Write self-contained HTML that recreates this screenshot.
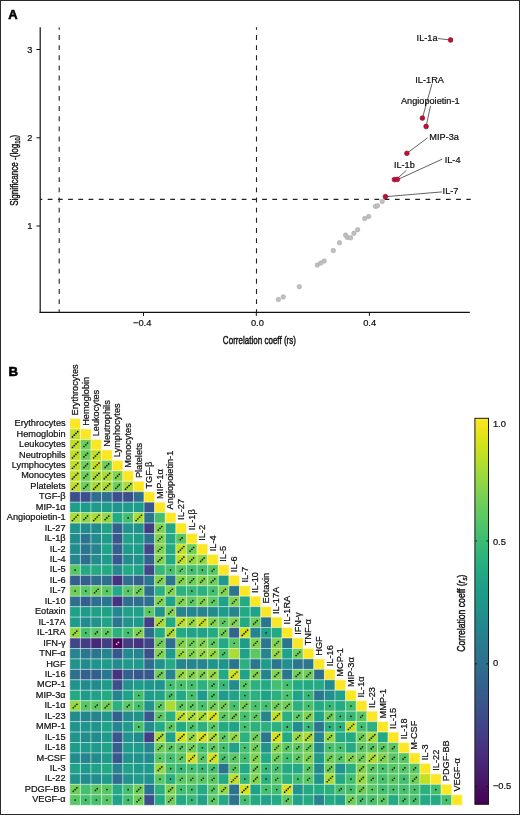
<!DOCTYPE html><html><head><meta charset="utf-8"><style>html,body{margin:0;padding:0;background:#fff;width:520px;height:815px;overflow:hidden}svg{display:block;will-change:transform}text{font-family:"Liberation Sans",sans-serif;fill:#111;stroke:#111;stroke-width:0.22px}</style></head><body>
<svg width="520" height="815" viewBox="0 0 520 815">
<rect x="0" y="0" width="520" height="815" fill="#fff"/>
<text x="8.3" y="19.2" font-size="13.0" font-weight="bold" style="fill:#000;stroke:#000;stroke-width:0.55px">A</text>
<g stroke="#222" stroke-width="1.1" fill="none">
<line x1="59.2" y1="312" x2="59.2" y2="27.2" stroke-dasharray="4.9 5.26" stroke-dashoffset="2.2"/>
<line x1="256.5" y1="312" x2="256.5" y2="27.2" stroke-dasharray="4.9 5.26" stroke-dashoffset="2.2"/>
<line x1="40.2" y1="199.4" x2="470.7" y2="199.4" stroke-dasharray="4.8 5.41" stroke-dashoffset="2.71"/>
</g>
<g stroke="#111" stroke-width="1.2" fill="none">
<line x1="40.2" y1="27.2" x2="40.2" y2="312.9"/>
<line x1="39.6" y1="312.3" x2="469.8" y2="312.3"/>
<line x1="36.4" y1="49.5" x2="40.2" y2="49.5" stroke-width="1"/>
<line x1="36.4" y1="137.8" x2="40.2" y2="137.8" stroke-width="1"/>
<line x1="36.4" y1="226.0" x2="40.2" y2="226.0" stroke-width="1"/>
<line x1="143.5" y1="312.3" x2="143.5" y2="315.9" stroke-width="1"/>
<line x1="256.3" y1="312.3" x2="256.3" y2="315.9" stroke-width="1"/>
<line x1="369.4" y1="312.3" x2="369.4" y2="315.9" stroke-width="1"/>
</g>
<g font-size="9.3" text-anchor="end">
<text x="32.3" y="52.9">3</text>
<text x="32.3" y="141.20000000000002">2</text>
<text x="32.3" y="229.4">1</text>
</g>
<g font-size="9.3" text-anchor="middle">
<text x="142.2" y="325.9">−0.4</text>
<text x="257.4" y="325.9">0.0</text>
<text x="369.6" y="325.9">0.4</text>
</g>
<text transform="translate(259.4,343.6) scale(0.70,1)" font-size="11.5" text-anchor="middle" style="stroke-width:0.45px">Correlation coeff (rs)</text>
<text transform="translate(17.8,170.3) rotate(-90) scale(0.705,1)" font-size="11.5" text-anchor="middle" style="stroke-width:0.4px">Significance -(log<tspan font-size="8" dy="2">10</tspan><tspan dy="-2">)</tspan></text>
<g fill="#bfbfbf" stroke="#a9a9a9" stroke-width="0.6">
<circle cx="278.4" cy="299.4" r="2.25"/>
<circle cx="283.3" cy="296.9" r="2.25"/>
<circle cx="299.3" cy="286.7" r="2.25"/>
<circle cx="317.3" cy="265.1" r="2.25"/>
<circle cx="320.7" cy="263.1" r="2.25"/>
<circle cx="324.2" cy="261.1" r="2.25"/>
<circle cx="333.3" cy="250.6" r="2.25"/>
<circle cx="339.5" cy="242.8" r="2.25"/>
<circle cx="345.6" cy="235.1" r="2.25"/>
<circle cx="347.2" cy="237.4" r="2.25"/>
<circle cx="350.6" cy="237.8" r="2.25"/>
<circle cx="353.9" cy="233.3" r="2.25"/>
<circle cx="357.6" cy="229.7" r="2.25"/>
<circle cx="364.7" cy="218.5" r="2.25"/>
<circle cx="368.7" cy="216.5" r="2.25"/>
<circle cx="375.5" cy="206.4" r="2.25"/>
<circle cx="377.5" cy="205.8" r="2.25"/>
<circle cx="382.2" cy="201.4" r="2.25"/>
</g>
<g stroke="#3a3a3a" stroke-width="0.8">
<line x1="385.4" y1="196.7" x2="441.9" y2="191.9"/>
<line x1="397.3" y1="178.6" x2="406.3" y2="170.4"/>
<line x1="398.5" y1="179.2" x2="442.3" y2="159.1"/>
<line x1="406.9" y1="153.3" x2="427.5" y2="137.9"/>
<line x1="422.4" y1="118.1" x2="432.0" y2="83.8"/>
<line x1="426.1" y1="126.5" x2="430.5" y2="105.8"/>
<line x1="450.6" y1="40.0" x2="437.9" y2="38.5"/>
</g>
<g fill="#c0103a" stroke="#8c0826" stroke-width="0.6">
<circle cx="385.4" cy="196.7" r="2.4"/>
<circle cx="394.4" cy="179.6" r="2.4"/>
<circle cx="397.3" cy="179.4" r="2.4"/>
<circle cx="406.9" cy="153.3" r="2.4"/>
<circle cx="422.4" cy="118.1" r="2.4"/>
<circle cx="426.1" cy="126.5" r="2.4"/>
<circle cx="450.6" cy="40.0" r="2.4"/>
</g>
<g font-size="9.2" style="fill:#222">
<text x="416.6" y="40.6">IL-1a</text>
<text x="415.3" y="82.7">IL-1RA</text>
<text x="400.9" y="104.2">Angiopoietin-1</text>
<text x="429.3" y="139.7">MIP-3a</text>
<text x="444.7" y="163.0">IL-4</text>
<text x="393.9" y="168.3">IL-1b</text>
<text x="442.6" y="194.0">IL-7</text>
</g>
<text x="8.6" y="375.9" font-size="13.2" font-weight="bold" style="fill:#000;stroke:#000;stroke-width:0.55px">B</text>
<g stroke="#ffffff" stroke-width="1.0" stroke-opacity="0.38">
<rect x="69.80" y="418.60" width="10.61" height="10.45" fill="#fde725"/>
<rect x="69.80" y="429.05" width="10.61" height="10.45" fill="#c0df25"/>
<rect x="80.41" y="429.05" width="10.61" height="10.45" fill="#fde725"/>
<rect x="69.80" y="439.50" width="10.61" height="10.45" fill="#c0df25"/>
<rect x="80.41" y="439.50" width="10.61" height="10.45" fill="#6ece58"/>
<rect x="91.02" y="439.50" width="10.61" height="10.45" fill="#fde725"/>
<rect x="69.80" y="449.95" width="10.61" height="10.45" fill="#c0df25"/>
<rect x="80.41" y="449.95" width="10.61" height="10.45" fill="#6ece58"/>
<rect x="91.02" y="449.95" width="10.61" height="10.45" fill="#c0df25"/>
<rect x="101.63" y="449.95" width="10.61" height="10.45" fill="#fde725"/>
<rect x="69.80" y="460.40" width="10.61" height="10.45" fill="#c0df25"/>
<rect x="80.41" y="460.40" width="10.61" height="10.45" fill="#6ece58"/>
<rect x="91.02" y="460.40" width="10.61" height="10.45" fill="#c0df25"/>
<rect x="101.63" y="460.40" width="10.61" height="10.45" fill="#6ece58"/>
<rect x="112.24" y="460.40" width="10.61" height="10.45" fill="#fde725"/>
<rect x="69.80" y="470.85" width="10.61" height="10.45" fill="#c0df25"/>
<rect x="80.41" y="470.85" width="10.61" height="10.45" fill="#6ece58"/>
<rect x="91.02" y="470.85" width="10.61" height="10.45" fill="#aadc32"/>
<rect x="101.63" y="470.85" width="10.61" height="10.45" fill="#aadc32"/>
<rect x="112.24" y="470.85" width="10.61" height="10.45" fill="#81d34d"/>
<rect x="122.85" y="470.85" width="10.61" height="10.45" fill="#fde725"/>
<rect x="69.80" y="481.30" width="10.61" height="10.45" fill="#c0df25"/>
<rect x="80.41" y="481.30" width="10.61" height="10.45" fill="#6ece58"/>
<rect x="91.02" y="481.30" width="10.61" height="10.45" fill="#aadc32"/>
<rect x="101.63" y="481.30" width="10.61" height="10.45" fill="#aadc32"/>
<rect x="112.24" y="481.30" width="10.61" height="10.45" fill="#6ece58"/>
<rect x="122.85" y="481.30" width="10.61" height="10.45" fill="#aadc32"/>
<rect x="133.46" y="481.30" width="10.61" height="10.45" fill="#fde725"/>
<rect x="69.80" y="491.75" width="10.61" height="10.45" fill="#3c4f8a"/>
<rect x="80.41" y="491.75" width="10.61" height="10.45" fill="#3c4f8a"/>
<rect x="91.02" y="491.75" width="10.61" height="10.45" fill="#2e6f8e"/>
<rect x="101.63" y="491.75" width="10.61" height="10.45" fill="#2e6f8e"/>
<rect x="112.24" y="491.75" width="10.61" height="10.45" fill="#3c4f8a"/>
<rect x="122.85" y="491.75" width="10.61" height="10.45" fill="#3c4f8a"/>
<rect x="133.46" y="491.75" width="10.61" height="10.45" fill="#2e6f8e"/>
<rect x="144.07" y="491.75" width="10.61" height="10.45" fill="#fde725"/>
<rect x="69.80" y="502.20" width="10.61" height="10.45" fill="#1f9e89"/>
<rect x="80.41" y="502.20" width="10.61" height="10.45" fill="#1e9b8a"/>
<rect x="91.02" y="502.20" width="10.61" height="10.45" fill="#1e9b8a"/>
<rect x="101.63" y="502.20" width="10.61" height="10.45" fill="#1e9b8a"/>
<rect x="112.24" y="502.20" width="10.61" height="10.45" fill="#1f948c"/>
<rect x="122.85" y="502.20" width="10.61" height="10.45" fill="#1e9b8a"/>
<rect x="133.46" y="502.20" width="10.61" height="10.45" fill="#1e9b8a"/>
<rect x="144.07" y="502.20" width="10.61" height="10.45" fill="#38588c"/>
<rect x="154.68" y="502.20" width="10.61" height="10.45" fill="#fde725"/>
<rect x="69.80" y="512.65" width="10.61" height="10.45" fill="#aadc32"/>
<rect x="80.41" y="512.65" width="10.61" height="10.45" fill="#95d840"/>
<rect x="91.02" y="512.65" width="10.61" height="10.45" fill="#aadc32"/>
<rect x="101.63" y="512.65" width="10.61" height="10.45" fill="#95d840"/>
<rect x="112.24" y="512.65" width="10.61" height="10.45" fill="#24aa83"/>
<rect x="122.85" y="512.65" width="10.61" height="10.45" fill="#44bf70"/>
<rect x="133.46" y="512.65" width="10.61" height="10.45" fill="#aadc32"/>
<rect x="144.07" y="512.65" width="10.61" height="10.45" fill="#2c738e"/>
<rect x="154.68" y="512.65" width="10.61" height="10.45" fill="#44bf70"/>
<rect x="165.29" y="512.65" width="10.61" height="10.45" fill="#fde725"/>
<rect x="69.80" y="523.10" width="10.61" height="10.45" fill="#20938c"/>
<rect x="80.41" y="523.10" width="10.61" height="10.45" fill="#228c8d"/>
<rect x="91.02" y="523.10" width="10.61" height="10.45" fill="#228c8d"/>
<rect x="101.63" y="523.10" width="10.61" height="10.45" fill="#1fa287"/>
<rect x="112.24" y="523.10" width="10.61" height="10.45" fill="#34608d"/>
<rect x="122.85" y="523.10" width="10.61" height="10.45" fill="#20938c"/>
<rect x="133.46" y="523.10" width="10.61" height="10.45" fill="#20938c"/>
<rect x="144.07" y="523.10" width="10.61" height="10.45" fill="#433d84"/>
<rect x="154.68" y="523.10" width="10.61" height="10.45" fill="#81d34d"/>
<rect x="165.29" y="523.10" width="10.61" height="10.45" fill="#24aa83"/>
<rect x="175.90" y="523.10" width="10.61" height="10.45" fill="#fde725"/>
<rect x="69.80" y="533.55" width="10.61" height="10.45" fill="#228c8d"/>
<rect x="80.41" y="533.55" width="10.61" height="10.45" fill="#2a768e"/>
<rect x="91.02" y="533.55" width="10.61" height="10.45" fill="#228c8d"/>
<rect x="101.63" y="533.55" width="10.61" height="10.45" fill="#1e9b8a"/>
<rect x="112.24" y="533.55" width="10.61" height="10.45" fill="#38588c"/>
<rect x="122.85" y="533.55" width="10.61" height="10.45" fill="#1fa287"/>
<rect x="133.46" y="533.55" width="10.61" height="10.45" fill="#1e9b8a"/>
<rect x="144.07" y="533.55" width="10.61" height="10.45" fill="#2e6f8e"/>
<rect x="154.68" y="533.55" width="10.61" height="10.45" fill="#81d34d"/>
<rect x="165.29" y="533.55" width="10.61" height="10.45" fill="#24aa83"/>
<rect x="175.90" y="533.55" width="10.61" height="10.45" fill="#5cc863"/>
<rect x="186.51" y="533.55" width="10.61" height="10.45" fill="#fde725"/>
<rect x="69.80" y="544.00" width="10.61" height="10.45" fill="#228c8d"/>
<rect x="80.41" y="544.00" width="10.61" height="10.45" fill="#2a768e"/>
<rect x="91.02" y="544.00" width="10.61" height="10.45" fill="#25848e"/>
<rect x="101.63" y="544.00" width="10.61" height="10.45" fill="#1fa287"/>
<rect x="112.24" y="544.00" width="10.61" height="10.45" fill="#34608d"/>
<rect x="122.85" y="544.00" width="10.61" height="10.45" fill="#1e9b8a"/>
<rect x="133.46" y="544.00" width="10.61" height="10.45" fill="#1e9b8a"/>
<rect x="144.07" y="544.00" width="10.61" height="10.45" fill="#404688"/>
<rect x="154.68" y="544.00" width="10.61" height="10.45" fill="#81d34d"/>
<rect x="165.29" y="544.00" width="10.61" height="10.45" fill="#24aa83"/>
<rect x="175.90" y="544.00" width="10.61" height="10.45" fill="#c0df25"/>
<rect x="186.51" y="544.00" width="10.61" height="10.45" fill="#6ece58"/>
<rect x="197.12" y="544.00" width="10.61" height="10.45" fill="#fde725"/>
<rect x="69.80" y="554.45" width="10.61" height="10.45" fill="#25848e"/>
<rect x="80.41" y="554.45" width="10.61" height="10.45" fill="#2e6f8e"/>
<rect x="91.02" y="554.45" width="10.61" height="10.45" fill="#228c8d"/>
<rect x="101.63" y="554.45" width="10.61" height="10.45" fill="#1e9b8a"/>
<rect x="112.24" y="554.45" width="10.61" height="10.45" fill="#38588c"/>
<rect x="122.85" y="554.45" width="10.61" height="10.45" fill="#228c8d"/>
<rect x="133.46" y="554.45" width="10.61" height="10.45" fill="#20938c"/>
<rect x="144.07" y="554.45" width="10.61" height="10.45" fill="#34608d"/>
<rect x="154.68" y="554.45" width="10.61" height="10.45" fill="#81d34d"/>
<rect x="165.29" y="554.45" width="10.61" height="10.45" fill="#24aa83"/>
<rect x="175.90" y="554.45" width="10.61" height="10.45" fill="#c0df25"/>
<rect x="186.51" y="554.45" width="10.61" height="10.45" fill="#95d840"/>
<rect x="197.12" y="554.45" width="10.61" height="10.45" fill="#95d840"/>
<rect x="207.73" y="554.45" width="10.61" height="10.45" fill="#fde725"/>
<rect x="69.80" y="564.90" width="10.61" height="10.45" fill="#58c765"/>
<rect x="80.41" y="564.90" width="10.61" height="10.45" fill="#24aa83"/>
<rect x="91.02" y="564.90" width="10.61" height="10.45" fill="#24aa83"/>
<rect x="101.63" y="564.90" width="10.61" height="10.45" fill="#24aa83"/>
<rect x="112.24" y="564.90" width="10.61" height="10.45" fill="#228c8d"/>
<rect x="122.85" y="564.90" width="10.61" height="10.45" fill="#24aa83"/>
<rect x="133.46" y="564.90" width="10.61" height="10.45" fill="#1fa287"/>
<rect x="144.07" y="564.90" width="10.61" height="10.45" fill="#404688"/>
<rect x="154.68" y="564.90" width="10.61" height="10.45" fill="#37b878"/>
<rect x="165.29" y="564.90" width="10.61" height="10.45" fill="#48c16e"/>
<rect x="175.90" y="564.90" width="10.61" height="10.45" fill="#58c765"/>
<rect x="186.51" y="564.90" width="10.61" height="10.45" fill="#44bf70"/>
<rect x="197.12" y="564.90" width="10.61" height="10.45" fill="#44bf70"/>
<rect x="207.73" y="564.90" width="10.61" height="10.45" fill="#58c765"/>
<rect x="218.34" y="564.90" width="10.61" height="10.45" fill="#fde725"/>
<rect x="69.80" y="575.35" width="10.61" height="10.45" fill="#34608d"/>
<rect x="80.41" y="575.35" width="10.61" height="10.45" fill="#34608d"/>
<rect x="91.02" y="575.35" width="10.61" height="10.45" fill="#2e6f8e"/>
<rect x="101.63" y="575.35" width="10.61" height="10.45" fill="#2e6f8e"/>
<rect x="112.24" y="575.35" width="10.61" height="10.45" fill="#46337f"/>
<rect x="122.85" y="575.35" width="10.61" height="10.45" fill="#2e6f8e"/>
<rect x="133.46" y="575.35" width="10.61" height="10.45" fill="#34608d"/>
<rect x="144.07" y="575.35" width="10.61" height="10.45" fill="#2a768e"/>
<rect x="154.68" y="575.35" width="10.61" height="10.45" fill="#81d34d"/>
<rect x="165.29" y="575.35" width="10.61" height="10.45" fill="#2a768e"/>
<rect x="175.90" y="575.35" width="10.61" height="10.45" fill="#81d34d"/>
<rect x="186.51" y="575.35" width="10.61" height="10.45" fill="#6ece58"/>
<rect x="197.12" y="575.35" width="10.61" height="10.45" fill="#81d34d"/>
<rect x="207.73" y="575.35" width="10.61" height="10.45" fill="#6ece58"/>
<rect x="218.34" y="575.35" width="10.61" height="10.45" fill="#1e9b8a"/>
<rect x="228.95" y="575.35" width="10.61" height="10.45" fill="#fde725"/>
<rect x="69.80" y="585.80" width="10.61" height="10.45" fill="#6ece58"/>
<rect x="80.41" y="585.80" width="10.61" height="10.45" fill="#58c765"/>
<rect x="91.02" y="585.80" width="10.61" height="10.45" fill="#6ece58"/>
<rect x="101.63" y="585.80" width="10.61" height="10.45" fill="#5cc863"/>
<rect x="112.24" y="585.80" width="10.61" height="10.45" fill="#24aa83"/>
<rect x="122.85" y="585.80" width="10.61" height="10.45" fill="#58c765"/>
<rect x="133.46" y="585.80" width="10.61" height="10.45" fill="#6ece58"/>
<rect x="144.07" y="585.80" width="10.61" height="10.45" fill="#2e6f8e"/>
<rect x="154.68" y="585.80" width="10.61" height="10.45" fill="#2cb17e"/>
<rect x="165.29" y="585.80" width="10.61" height="10.45" fill="#81d34d"/>
<rect x="175.90" y="585.80" width="10.61" height="10.45" fill="#2cb17e"/>
<rect x="186.51" y="585.80" width="10.61" height="10.45" fill="#37b878"/>
<rect x="197.12" y="585.80" width="10.61" height="10.45" fill="#2cb17e"/>
<rect x="207.73" y="585.80" width="10.61" height="10.45" fill="#44bf70"/>
<rect x="218.34" y="585.80" width="10.61" height="10.45" fill="#81d34d"/>
<rect x="228.95" y="585.80" width="10.61" height="10.45" fill="#2a768e"/>
<rect x="239.56" y="585.80" width="10.61" height="10.45" fill="#fde725"/>
<rect x="69.80" y="596.25" width="10.61" height="10.45" fill="#2e6f8e"/>
<rect x="80.41" y="596.25" width="10.61" height="10.45" fill="#34608d"/>
<rect x="91.02" y="596.25" width="10.61" height="10.45" fill="#2e6f8e"/>
<rect x="101.63" y="596.25" width="10.61" height="10.45" fill="#2a768e"/>
<rect x="112.24" y="596.25" width="10.61" height="10.45" fill="#46337f"/>
<rect x="122.85" y="596.25" width="10.61" height="10.45" fill="#2e6f8e"/>
<rect x="133.46" y="596.25" width="10.61" height="10.45" fill="#2e6f8e"/>
<rect x="144.07" y="596.25" width="10.61" height="10.45" fill="#2e6f8e"/>
<rect x="154.68" y="596.25" width="10.61" height="10.45" fill="#81d34d"/>
<rect x="165.29" y="596.25" width="10.61" height="10.45" fill="#1fa287"/>
<rect x="175.90" y="596.25" width="10.61" height="10.45" fill="#81d34d"/>
<rect x="186.51" y="596.25" width="10.61" height="10.45" fill="#5cc863"/>
<rect x="197.12" y="596.25" width="10.61" height="10.45" fill="#81d34d"/>
<rect x="207.73" y="596.25" width="10.61" height="10.45" fill="#5cc863"/>
<rect x="218.34" y="596.25" width="10.61" height="10.45" fill="#1fa287"/>
<rect x="228.95" y="596.25" width="10.61" height="10.45" fill="#81d34d"/>
<rect x="239.56" y="596.25" width="10.61" height="10.45" fill="#24aa83"/>
<rect x="250.17" y="596.25" width="10.61" height="10.45" fill="#fde725"/>
<rect x="69.80" y="606.70" width="10.61" height="10.45" fill="#1fa188"/>
<rect x="80.41" y="606.70" width="10.61" height="10.45" fill="#1e9b8a"/>
<rect x="91.02" y="606.70" width="10.61" height="10.45" fill="#1fa188"/>
<rect x="101.63" y="606.70" width="10.61" height="10.45" fill="#1fa188"/>
<rect x="112.24" y="606.70" width="10.61" height="10.45" fill="#23888e"/>
<rect x="122.85" y="606.70" width="10.61" height="10.45" fill="#1fa188"/>
<rect x="133.46" y="606.70" width="10.61" height="10.45" fill="#1fa188"/>
<rect x="144.07" y="606.70" width="10.61" height="10.45" fill="#5cc863"/>
<rect x="154.68" y="606.70" width="10.61" height="10.45" fill="#20938c"/>
<rect x="165.29" y="606.70" width="10.61" height="10.45" fill="#81d34d"/>
<rect x="175.90" y="606.70" width="10.61" height="10.45" fill="#25848e"/>
<rect x="186.51" y="606.70" width="10.61" height="10.45" fill="#25848e"/>
<rect x="197.12" y="606.70" width="10.61" height="10.45" fill="#25848e"/>
<rect x="207.73" y="606.70" width="10.61" height="10.45" fill="#228c8d"/>
<rect x="218.34" y="606.70" width="10.61" height="10.45" fill="#1e9b8a"/>
<rect x="228.95" y="606.70" width="10.61" height="10.45" fill="#25848e"/>
<rect x="239.56" y="606.70" width="10.61" height="10.45" fill="#24aa83"/>
<rect x="250.17" y="606.70" width="10.61" height="10.45" fill="#1fa287"/>
<rect x="260.78" y="606.70" width="10.61" height="10.45" fill="#fde725"/>
<rect x="69.80" y="617.15" width="10.61" height="10.45" fill="#1e9b8a"/>
<rect x="80.41" y="617.15" width="10.61" height="10.45" fill="#228c8d"/>
<rect x="91.02" y="617.15" width="10.61" height="10.45" fill="#20938c"/>
<rect x="101.63" y="617.15" width="10.61" height="10.45" fill="#1fa287"/>
<rect x="112.24" y="617.15" width="10.61" height="10.45" fill="#2a768e"/>
<rect x="122.85" y="617.15" width="10.61" height="10.45" fill="#20938c"/>
<rect x="133.46" y="617.15" width="10.61" height="10.45" fill="#1e9b8a"/>
<rect x="144.07" y="617.15" width="10.61" height="10.45" fill="#433d84"/>
<rect x="154.68" y="617.15" width="10.61" height="10.45" fill="#aadc32"/>
<rect x="165.29" y="617.15" width="10.61" height="10.45" fill="#24aa83"/>
<rect x="175.90" y="617.15" width="10.61" height="10.45" fill="#c0df25"/>
<rect x="186.51" y="617.15" width="10.61" height="10.45" fill="#95d840"/>
<rect x="197.12" y="617.15" width="10.61" height="10.45" fill="#c0df25"/>
<rect x="207.73" y="617.15" width="10.61" height="10.45" fill="#81d34d"/>
<rect x="218.34" y="617.15" width="10.61" height="10.45" fill="#5cc863"/>
<rect x="228.95" y="617.15" width="10.61" height="10.45" fill="#81d34d"/>
<rect x="239.56" y="617.15" width="10.61" height="10.45" fill="#24aa83"/>
<rect x="250.17" y="617.15" width="10.61" height="10.45" fill="#6ece58"/>
<rect x="260.78" y="617.15" width="10.61" height="10.45" fill="#2a768e"/>
<rect x="271.39" y="617.15" width="10.61" height="10.45" fill="#fde725"/>
<rect x="69.80" y="627.60" width="10.61" height="10.45" fill="#95d840"/>
<rect x="80.41" y="627.60" width="10.61" height="10.45" fill="#48c16e"/>
<rect x="91.02" y="627.60" width="10.61" height="10.45" fill="#5cc863"/>
<rect x="101.63" y="627.60" width="10.61" height="10.45" fill="#5cc863"/>
<rect x="112.24" y="627.60" width="10.61" height="10.45" fill="#2cb17e"/>
<rect x="122.85" y="627.60" width="10.61" height="10.45" fill="#44bf70"/>
<rect x="133.46" y="627.60" width="10.61" height="10.45" fill="#81d34d"/>
<rect x="144.07" y="627.60" width="10.61" height="10.45" fill="#2e6f8e"/>
<rect x="154.68" y="627.60" width="10.61" height="10.45" fill="#24aa83"/>
<rect x="165.29" y="627.60" width="10.61" height="10.45" fill="#aadc32"/>
<rect x="175.90" y="627.60" width="10.61" height="10.45" fill="#24aa83"/>
<rect x="186.51" y="627.60" width="10.61" height="10.45" fill="#1fa287"/>
<rect x="197.12" y="627.60" width="10.61" height="10.45" fill="#1fa287"/>
<rect x="207.73" y="627.60" width="10.61" height="10.45" fill="#24aa83"/>
<rect x="218.34" y="627.60" width="10.61" height="10.45" fill="#6ece58"/>
<rect x="228.95" y="627.60" width="10.61" height="10.45" fill="#32648e"/>
<rect x="239.56" y="627.60" width="10.61" height="10.45" fill="#d5e21a"/>
<rect x="250.17" y="627.60" width="10.61" height="10.45" fill="#25848e"/>
<rect x="260.78" y="627.60" width="10.61" height="10.45" fill="#1fa287"/>
<rect x="271.39" y="627.60" width="10.61" height="10.45" fill="#24aa83"/>
<rect x="282.00" y="627.60" width="10.61" height="10.45" fill="#fde725"/>
<rect x="69.80" y="638.05" width="10.61" height="10.45" fill="#404688"/>
<rect x="80.41" y="638.05" width="10.61" height="10.45" fill="#433d84"/>
<rect x="91.02" y="638.05" width="10.61" height="10.45" fill="#482979"/>
<rect x="101.63" y="638.05" width="10.61" height="10.45" fill="#433d84"/>
<rect x="112.24" y="638.05" width="10.61" height="10.45" fill="#46075a"/>
<rect x="122.85" y="638.05" width="10.61" height="10.45" fill="#433d84"/>
<rect x="133.46" y="638.05" width="10.61" height="10.45" fill="#46337f"/>
<rect x="144.07" y="638.05" width="10.61" height="10.45" fill="#404688"/>
<rect x="154.68" y="638.05" width="10.61" height="10.45" fill="#6ece58"/>
<rect x="165.29" y="638.05" width="10.61" height="10.45" fill="#2e6f8e"/>
<rect x="175.90" y="638.05" width="10.61" height="10.45" fill="#81d34d"/>
<rect x="186.51" y="638.05" width="10.61" height="10.45" fill="#6ece58"/>
<rect x="197.12" y="638.05" width="10.61" height="10.45" fill="#81d34d"/>
<rect x="207.73" y="638.05" width="10.61" height="10.45" fill="#5cc863"/>
<rect x="218.34" y="638.05" width="10.61" height="10.45" fill="#24aa83"/>
<rect x="228.95" y="638.05" width="10.61" height="10.45" fill="#58c765"/>
<rect x="239.56" y="638.05" width="10.61" height="10.45" fill="#1e9b8a"/>
<rect x="250.17" y="638.05" width="10.61" height="10.45" fill="#81d34d"/>
<rect x="260.78" y="638.05" width="10.61" height="10.45" fill="#2a768e"/>
<rect x="271.39" y="638.05" width="10.61" height="10.45" fill="#81d34d"/>
<rect x="282.00" y="638.05" width="10.61" height="10.45" fill="#2a768e"/>
<rect x="292.61" y="638.05" width="10.61" height="10.45" fill="#fde725"/>
<rect x="69.80" y="648.50" width="10.61" height="10.45" fill="#25848e"/>
<rect x="80.41" y="648.50" width="10.61" height="10.45" fill="#2a768e"/>
<rect x="91.02" y="648.50" width="10.61" height="10.45" fill="#2a768e"/>
<rect x="101.63" y="648.50" width="10.61" height="10.45" fill="#25848e"/>
<rect x="112.24" y="648.50" width="10.61" height="10.45" fill="#38588c"/>
<rect x="122.85" y="648.50" width="10.61" height="10.45" fill="#228c8d"/>
<rect x="133.46" y="648.50" width="10.61" height="10.45" fill="#25848e"/>
<rect x="144.07" y="648.50" width="10.61" height="10.45" fill="#3c4f8a"/>
<rect x="154.68" y="648.50" width="10.61" height="10.45" fill="#81d34d"/>
<rect x="165.29" y="648.50" width="10.61" height="10.45" fill="#1e9b8a"/>
<rect x="175.90" y="648.50" width="10.61" height="10.45" fill="#95d840"/>
<rect x="186.51" y="648.50" width="10.61" height="10.45" fill="#81d34d"/>
<rect x="197.12" y="648.50" width="10.61" height="10.45" fill="#95d840"/>
<rect x="207.73" y="648.50" width="10.61" height="10.45" fill="#95d840"/>
<rect x="218.34" y="648.50" width="10.61" height="10.45" fill="#48c16e"/>
<rect x="228.95" y="648.50" width="10.61" height="10.45" fill="#aadc32"/>
<rect x="239.56" y="648.50" width="10.61" height="10.45" fill="#1fa287"/>
<rect x="250.17" y="648.50" width="10.61" height="10.45" fill="#5cc863"/>
<rect x="260.78" y="648.50" width="10.61" height="10.45" fill="#25848e"/>
<rect x="271.39" y="648.50" width="10.61" height="10.45" fill="#95d840"/>
<rect x="282.00" y="648.50" width="10.61" height="10.45" fill="#1fa287"/>
<rect x="292.61" y="648.50" width="10.61" height="10.45" fill="#6ece58"/>
<rect x="303.22" y="648.50" width="10.61" height="10.45" fill="#fde725"/>
<rect x="69.80" y="658.95" width="10.61" height="10.45" fill="#20938c"/>
<rect x="80.41" y="658.95" width="10.61" height="10.45" fill="#228c8d"/>
<rect x="91.02" y="658.95" width="10.61" height="10.45" fill="#20938c"/>
<rect x="101.63" y="658.95" width="10.61" height="10.45" fill="#1e9b8a"/>
<rect x="112.24" y="658.95" width="10.61" height="10.45" fill="#228c8d"/>
<rect x="122.85" y="658.95" width="10.61" height="10.45" fill="#1e9b8a"/>
<rect x="133.46" y="658.95" width="10.61" height="10.45" fill="#1e9b8a"/>
<rect x="144.07" y="658.95" width="10.61" height="10.45" fill="#2e6f8e"/>
<rect x="154.68" y="658.95" width="10.61" height="10.45" fill="#20938c"/>
<rect x="165.29" y="658.95" width="10.61" height="10.45" fill="#24aa83"/>
<rect x="175.90" y="658.95" width="10.61" height="10.45" fill="#25848e"/>
<rect x="186.51" y="658.95" width="10.61" height="10.45" fill="#25848e"/>
<rect x="197.12" y="658.95" width="10.61" height="10.45" fill="#25848e"/>
<rect x="207.73" y="658.95" width="10.61" height="10.45" fill="#20938c"/>
<rect x="218.34" y="658.95" width="10.61" height="10.45" fill="#20938c"/>
<rect x="228.95" y="658.95" width="10.61" height="10.45" fill="#2a768e"/>
<rect x="239.56" y="658.95" width="10.61" height="10.45" fill="#2cb17e"/>
<rect x="250.17" y="658.95" width="10.61" height="10.45" fill="#2a768e"/>
<rect x="260.78" y="658.95" width="10.61" height="10.45" fill="#1e9b8a"/>
<rect x="271.39" y="658.95" width="10.61" height="10.45" fill="#2a768e"/>
<rect x="282.00" y="658.95" width="10.61" height="10.45" fill="#218f8d"/>
<rect x="292.61" y="658.95" width="10.61" height="10.45" fill="#2a768e"/>
<rect x="303.22" y="658.95" width="10.61" height="10.45" fill="#2a768e"/>
<rect x="313.83" y="658.95" width="10.61" height="10.45" fill="#fde725"/>
<rect x="69.80" y="669.40" width="10.61" height="10.45" fill="#2e6f8e"/>
<rect x="80.41" y="669.40" width="10.61" height="10.45" fill="#34608d"/>
<rect x="91.02" y="669.40" width="10.61" height="10.45" fill="#34608d"/>
<rect x="101.63" y="669.40" width="10.61" height="10.45" fill="#2a768e"/>
<rect x="112.24" y="669.40" width="10.61" height="10.45" fill="#46337f"/>
<rect x="122.85" y="669.40" width="10.61" height="10.45" fill="#34608d"/>
<rect x="133.46" y="669.40" width="10.61" height="10.45" fill="#38588c"/>
<rect x="144.07" y="669.40" width="10.61" height="10.45" fill="#38588c"/>
<rect x="154.68" y="669.40" width="10.61" height="10.45" fill="#6ece58"/>
<rect x="165.29" y="669.40" width="10.61" height="10.45" fill="#25848e"/>
<rect x="175.90" y="669.40" width="10.61" height="10.45" fill="#95d840"/>
<rect x="186.51" y="669.40" width="10.61" height="10.45" fill="#81d34d"/>
<rect x="197.12" y="669.40" width="10.61" height="10.45" fill="#81d34d"/>
<rect x="207.73" y="669.40" width="10.61" height="10.45" fill="#95d840"/>
<rect x="218.34" y="669.40" width="10.61" height="10.45" fill="#24aa83"/>
<rect x="228.95" y="669.40" width="10.61" height="10.45" fill="#d5e21a"/>
<rect x="239.56" y="669.40" width="10.61" height="10.45" fill="#1fa287"/>
<rect x="250.17" y="669.40" width="10.61" height="10.45" fill="#81d34d"/>
<rect x="260.78" y="669.40" width="10.61" height="10.45" fill="#25848e"/>
<rect x="271.39" y="669.40" width="10.61" height="10.45" fill="#81d34d"/>
<rect x="282.00" y="669.40" width="10.61" height="10.45" fill="#2a768e"/>
<rect x="292.61" y="669.40" width="10.61" height="10.45" fill="#6ece58"/>
<rect x="303.22" y="669.40" width="10.61" height="10.45" fill="#6ece58"/>
<rect x="313.83" y="669.40" width="10.61" height="10.45" fill="#2e6f8e"/>
<rect x="324.44" y="669.40" width="10.61" height="10.45" fill="#fde725"/>
<rect x="69.80" y="679.85" width="10.61" height="10.45" fill="#20938c"/>
<rect x="80.41" y="679.85" width="10.61" height="10.45" fill="#228c8d"/>
<rect x="91.02" y="679.85" width="10.61" height="10.45" fill="#228c8d"/>
<rect x="101.63" y="679.85" width="10.61" height="10.45" fill="#1e9b8a"/>
<rect x="112.24" y="679.85" width="10.61" height="10.45" fill="#3c4f8a"/>
<rect x="122.85" y="679.85" width="10.61" height="10.45" fill="#20938c"/>
<rect x="133.46" y="679.85" width="10.61" height="10.45" fill="#1e9b8a"/>
<rect x="144.07" y="679.85" width="10.61" height="10.45" fill="#20938c"/>
<rect x="154.68" y="679.85" width="10.61" height="10.45" fill="#20938c"/>
<rect x="165.29" y="679.85" width="10.61" height="10.45" fill="#44bf70"/>
<rect x="175.90" y="679.85" width="10.61" height="10.45" fill="#48c16e"/>
<rect x="186.51" y="679.85" width="10.61" height="10.45" fill="#44bf70"/>
<rect x="197.12" y="679.85" width="10.61" height="10.45" fill="#2cb17e"/>
<rect x="207.73" y="679.85" width="10.61" height="10.45" fill="#48c16e"/>
<rect x="218.34" y="679.85" width="10.61" height="10.45" fill="#37b878"/>
<rect x="228.95" y="679.85" width="10.61" height="10.45" fill="#228c8d"/>
<rect x="239.56" y="679.85" width="10.61" height="10.45" fill="#58c765"/>
<rect x="250.17" y="679.85" width="10.61" height="10.45" fill="#2cb17e"/>
<rect x="260.78" y="679.85" width="10.61" height="10.45" fill="#24aa83"/>
<rect x="271.39" y="679.85" width="10.61" height="10.45" fill="#44bf70"/>
<rect x="282.00" y="679.85" width="10.61" height="10.45" fill="#44bf70"/>
<rect x="292.61" y="679.85" width="10.61" height="10.45" fill="#24aa83"/>
<rect x="303.22" y="679.85" width="10.61" height="10.45" fill="#24aa83"/>
<rect x="313.83" y="679.85" width="10.61" height="10.45" fill="#24aa83"/>
<rect x="324.44" y="679.85" width="10.61" height="10.45" fill="#228c8d"/>
<rect x="335.05" y="679.85" width="10.61" height="10.45" fill="#fde725"/>
<rect x="69.80" y="690.30" width="10.61" height="10.45" fill="#24aa83"/>
<rect x="80.41" y="690.30" width="10.61" height="10.45" fill="#1e9b8a"/>
<rect x="91.02" y="690.30" width="10.61" height="10.45" fill="#1fa287"/>
<rect x="101.63" y="690.30" width="10.61" height="10.45" fill="#24aa83"/>
<rect x="112.24" y="690.30" width="10.61" height="10.45" fill="#25848e"/>
<rect x="122.85" y="690.30" width="10.61" height="10.45" fill="#1fa287"/>
<rect x="133.46" y="690.30" width="10.61" height="10.45" fill="#44bf70"/>
<rect x="144.07" y="690.30" width="10.61" height="10.45" fill="#1e9b8a"/>
<rect x="154.68" y="690.30" width="10.61" height="10.45" fill="#1fa287"/>
<rect x="165.29" y="690.30" width="10.61" height="10.45" fill="#48c16e"/>
<rect x="175.90" y="690.30" width="10.61" height="10.45" fill="#24aa83"/>
<rect x="186.51" y="690.30" width="10.61" height="10.45" fill="#44bf70"/>
<rect x="197.12" y="690.30" width="10.61" height="10.45" fill="#1e9b8a"/>
<rect x="207.73" y="690.30" width="10.61" height="10.45" fill="#48c16e"/>
<rect x="218.34" y="690.30" width="10.61" height="10.45" fill="#1e9b8a"/>
<rect x="228.95" y="690.30" width="10.61" height="10.45" fill="#1fa287"/>
<rect x="239.56" y="690.30" width="10.61" height="10.45" fill="#37b878"/>
<rect x="250.17" y="690.30" width="10.61" height="10.45" fill="#2cb17e"/>
<rect x="260.78" y="690.30" width="10.61" height="10.45" fill="#1fa287"/>
<rect x="271.39" y="690.30" width="10.61" height="10.45" fill="#2cb17e"/>
<rect x="282.00" y="690.30" width="10.61" height="10.45" fill="#48c16e"/>
<rect x="292.61" y="690.30" width="10.61" height="10.45" fill="#1fa287"/>
<rect x="303.22" y="690.30" width="10.61" height="10.45" fill="#37b878"/>
<rect x="313.83" y="690.30" width="10.61" height="10.45" fill="#2a768e"/>
<rect x="324.44" y="690.30" width="10.61" height="10.45" fill="#218f8d"/>
<rect x="335.05" y="690.30" width="10.61" height="10.45" fill="#1fa287"/>
<rect x="345.66" y="690.30" width="10.61" height="10.45" fill="#fde725"/>
<rect x="69.80" y="700.75" width="10.61" height="10.45" fill="#95d840"/>
<rect x="80.41" y="700.75" width="10.61" height="10.45" fill="#58c765"/>
<rect x="91.02" y="700.75" width="10.61" height="10.45" fill="#5cc863"/>
<rect x="101.63" y="700.75" width="10.61" height="10.45" fill="#6ece58"/>
<rect x="112.24" y="700.75" width="10.61" height="10.45" fill="#2cb17e"/>
<rect x="122.85" y="700.75" width="10.61" height="10.45" fill="#5cc863"/>
<rect x="133.46" y="700.75" width="10.61" height="10.45" fill="#48c16e"/>
<rect x="144.07" y="700.75" width="10.61" height="10.45" fill="#20938c"/>
<rect x="154.68" y="700.75" width="10.61" height="10.45" fill="#5cc863"/>
<rect x="165.29" y="700.75" width="10.61" height="10.45" fill="#aadc32"/>
<rect x="175.90" y="700.75" width="10.61" height="10.45" fill="#5cc863"/>
<rect x="186.51" y="700.75" width="10.61" height="10.45" fill="#5cc863"/>
<rect x="197.12" y="700.75" width="10.61" height="10.45" fill="#48c16e"/>
<rect x="207.73" y="700.75" width="10.61" height="10.45" fill="#6ece58"/>
<rect x="218.34" y="700.75" width="10.61" height="10.45" fill="#6ece58"/>
<rect x="228.95" y="700.75" width="10.61" height="10.45" fill="#48c16e"/>
<rect x="239.56" y="700.75" width="10.61" height="10.45" fill="#6ece58"/>
<rect x="250.17" y="700.75" width="10.61" height="10.45" fill="#48c16e"/>
<rect x="260.78" y="700.75" width="10.61" height="10.45" fill="#44bf70"/>
<rect x="271.39" y="700.75" width="10.61" height="10.45" fill="#6ece58"/>
<rect x="282.00" y="700.75" width="10.61" height="10.45" fill="#6ece58"/>
<rect x="292.61" y="700.75" width="10.61" height="10.45" fill="#2cb17e"/>
<rect x="303.22" y="700.75" width="10.61" height="10.45" fill="#48c16e"/>
<rect x="313.83" y="700.75" width="10.61" height="10.45" fill="#24aa83"/>
<rect x="324.44" y="700.75" width="10.61" height="10.45" fill="#37b878"/>
<rect x="335.05" y="700.75" width="10.61" height="10.45" fill="#24aa83"/>
<rect x="345.66" y="700.75" width="10.61" height="10.45" fill="#44bf70"/>
<rect x="356.27" y="700.75" width="10.61" height="10.45" fill="#fde725"/>
<rect x="69.80" y="711.20" width="10.61" height="10.45" fill="#228c8d"/>
<rect x="80.41" y="711.20" width="10.61" height="10.45" fill="#25848e"/>
<rect x="91.02" y="711.20" width="10.61" height="10.45" fill="#25848e"/>
<rect x="101.63" y="711.20" width="10.61" height="10.45" fill="#20938c"/>
<rect x="112.24" y="711.20" width="10.61" height="10.45" fill="#34608d"/>
<rect x="122.85" y="711.20" width="10.61" height="10.45" fill="#228c8d"/>
<rect x="133.46" y="711.20" width="10.61" height="10.45" fill="#20938c"/>
<rect x="144.07" y="711.20" width="10.61" height="10.45" fill="#38588c"/>
<rect x="154.68" y="711.20" width="10.61" height="10.45" fill="#5cc863"/>
<rect x="165.29" y="711.20" width="10.61" height="10.45" fill="#2cb17e"/>
<rect x="175.90" y="711.20" width="10.61" height="10.45" fill="#c0df25"/>
<rect x="186.51" y="711.20" width="10.61" height="10.45" fill="#aadc32"/>
<rect x="197.12" y="711.20" width="10.61" height="10.45" fill="#aadc32"/>
<rect x="207.73" y="711.20" width="10.61" height="10.45" fill="#d5e21a"/>
<rect x="218.34" y="711.20" width="10.61" height="10.45" fill="#5cc863"/>
<rect x="228.95" y="711.20" width="10.61" height="10.45" fill="#6ece58"/>
<rect x="239.56" y="711.20" width="10.61" height="10.45" fill="#44bf70"/>
<rect x="250.17" y="711.20" width="10.61" height="10.45" fill="#5cc863"/>
<rect x="260.78" y="711.20" width="10.61" height="10.45" fill="#25848e"/>
<rect x="271.39" y="711.20" width="10.61" height="10.45" fill="#c0df25"/>
<rect x="282.00" y="711.20" width="10.61" height="10.45" fill="#2cb17e"/>
<rect x="292.61" y="711.20" width="10.61" height="10.45" fill="#58c765"/>
<rect x="303.22" y="711.20" width="10.61" height="10.45" fill="#81d34d"/>
<rect x="313.83" y="711.20" width="10.61" height="10.45" fill="#1fa287"/>
<rect x="324.44" y="711.20" width="10.61" height="10.45" fill="#6ece58"/>
<rect x="335.05" y="711.20" width="10.61" height="10.45" fill="#37b878"/>
<rect x="345.66" y="711.20" width="10.61" height="10.45" fill="#37b878"/>
<rect x="356.27" y="711.20" width="10.61" height="10.45" fill="#58c765"/>
<rect x="366.88" y="711.20" width="10.61" height="10.45" fill="#fde725"/>
<rect x="69.80" y="721.65" width="10.61" height="10.45" fill="#20938c"/>
<rect x="80.41" y="721.65" width="10.61" height="10.45" fill="#20938c"/>
<rect x="91.02" y="721.65" width="10.61" height="10.45" fill="#20938c"/>
<rect x="101.63" y="721.65" width="10.61" height="10.45" fill="#1fa287"/>
<rect x="112.24" y="721.65" width="10.61" height="10.45" fill="#25848e"/>
<rect x="122.85" y="721.65" width="10.61" height="10.45" fill="#1e9b8a"/>
<rect x="133.46" y="721.65" width="10.61" height="10.45" fill="#48c16e"/>
<rect x="144.07" y="721.65" width="10.61" height="10.45" fill="#228c8d"/>
<rect x="154.68" y="721.65" width="10.61" height="10.45" fill="#24aa83"/>
<rect x="165.29" y="721.65" width="10.61" height="10.45" fill="#5cc863"/>
<rect x="175.90" y="721.65" width="10.61" height="10.45" fill="#24aa83"/>
<rect x="186.51" y="721.65" width="10.61" height="10.45" fill="#48c16e"/>
<rect x="197.12" y="721.65" width="10.61" height="10.45" fill="#2cb17e"/>
<rect x="207.73" y="721.65" width="10.61" height="10.45" fill="#58c765"/>
<rect x="218.34" y="721.65" width="10.61" height="10.45" fill="#24aa83"/>
<rect x="228.95" y="721.65" width="10.61" height="10.45" fill="#1fa287"/>
<rect x="239.56" y="721.65" width="10.61" height="10.45" fill="#44bf70"/>
<rect x="250.17" y="721.65" width="10.61" height="10.45" fill="#2cb17e"/>
<rect x="260.78" y="721.65" width="10.61" height="10.45" fill="#2cb17e"/>
<rect x="271.39" y="721.65" width="10.61" height="10.45" fill="#2cb17e"/>
<rect x="282.00" y="721.65" width="10.61" height="10.45" fill="#37b878"/>
<rect x="292.61" y="721.65" width="10.61" height="10.45" fill="#228c8d"/>
<rect x="303.22" y="721.65" width="10.61" height="10.45" fill="#37b878"/>
<rect x="313.83" y="721.65" width="10.61" height="10.45" fill="#2a768e"/>
<rect x="324.44" y="721.65" width="10.61" height="10.45" fill="#2cb17e"/>
<rect x="335.05" y="721.65" width="10.61" height="10.45" fill="#2cb17e"/>
<rect x="345.66" y="721.65" width="10.61" height="10.45" fill="#c0df25"/>
<rect x="356.27" y="721.65" width="10.61" height="10.45" fill="#44bf70"/>
<rect x="366.88" y="721.65" width="10.61" height="10.45" fill="#2cb17e"/>
<rect x="377.49" y="721.65" width="10.61" height="10.45" fill="#fde725"/>
<rect x="69.80" y="732.10" width="10.61" height="10.45" fill="#20938c"/>
<rect x="80.41" y="732.10" width="10.61" height="10.45" fill="#228c8d"/>
<rect x="91.02" y="732.10" width="10.61" height="10.45" fill="#228c8d"/>
<rect x="101.63" y="732.10" width="10.61" height="10.45" fill="#1e9b8a"/>
<rect x="112.24" y="732.10" width="10.61" height="10.45" fill="#38588c"/>
<rect x="122.85" y="732.10" width="10.61" height="10.45" fill="#20938c"/>
<rect x="133.46" y="732.10" width="10.61" height="10.45" fill="#228c8d"/>
<rect x="144.07" y="732.10" width="10.61" height="10.45" fill="#433d84"/>
<rect x="154.68" y="732.10" width="10.61" height="10.45" fill="#aadc32"/>
<rect x="165.29" y="732.10" width="10.61" height="10.45" fill="#1fa287"/>
<rect x="175.90" y="732.10" width="10.61" height="10.45" fill="#d5e21a"/>
<rect x="186.51" y="732.10" width="10.61" height="10.45" fill="#95d840"/>
<rect x="197.12" y="732.10" width="10.61" height="10.45" fill="#d5e21a"/>
<rect x="207.73" y="732.10" width="10.61" height="10.45" fill="#aadc32"/>
<rect x="218.34" y="732.10" width="10.61" height="10.45" fill="#5cc863"/>
<rect x="228.95" y="732.10" width="10.61" height="10.45" fill="#95d840"/>
<rect x="239.56" y="732.10" width="10.61" height="10.45" fill="#2cb17e"/>
<rect x="250.17" y="732.10" width="10.61" height="10.45" fill="#6ece58"/>
<rect x="260.78" y="732.10" width="10.61" height="10.45" fill="#2a768e"/>
<rect x="271.39" y="732.10" width="10.61" height="10.45" fill="#d5e21a"/>
<rect x="282.00" y="732.10" width="10.61" height="10.45" fill="#24aa83"/>
<rect x="292.61" y="732.10" width="10.61" height="10.45" fill="#95d840"/>
<rect x="303.22" y="732.10" width="10.61" height="10.45" fill="#aadc32"/>
<rect x="313.83" y="732.10" width="10.61" height="10.45" fill="#25848e"/>
<rect x="324.44" y="732.10" width="10.61" height="10.45" fill="#95d840"/>
<rect x="335.05" y="732.10" width="10.61" height="10.45" fill="#24aa83"/>
<rect x="345.66" y="732.10" width="10.61" height="10.45" fill="#24aa83"/>
<rect x="356.27" y="732.10" width="10.61" height="10.45" fill="#6ece58"/>
<rect x="366.88" y="732.10" width="10.61" height="10.45" fill="#aadc32"/>
<rect x="377.49" y="732.10" width="10.61" height="10.45" fill="#24aa83"/>
<rect x="388.10" y="732.10" width="10.61" height="10.45" fill="#fde725"/>
<rect x="69.80" y="742.55" width="10.61" height="10.45" fill="#1e9b8a"/>
<rect x="80.41" y="742.55" width="10.61" height="10.45" fill="#1e9b8a"/>
<rect x="91.02" y="742.55" width="10.61" height="10.45" fill="#1e9b8a"/>
<rect x="101.63" y="742.55" width="10.61" height="10.45" fill="#1fa287"/>
<rect x="112.24" y="742.55" width="10.61" height="10.45" fill="#34608d"/>
<rect x="122.85" y="742.55" width="10.61" height="10.45" fill="#1e9b8a"/>
<rect x="133.46" y="742.55" width="10.61" height="10.45" fill="#1e9b8a"/>
<rect x="144.07" y="742.55" width="10.61" height="10.45" fill="#25848e"/>
<rect x="154.68" y="742.55" width="10.61" height="10.45" fill="#6ece58"/>
<rect x="165.29" y="742.55" width="10.61" height="10.45" fill="#5cc863"/>
<rect x="175.90" y="742.55" width="10.61" height="10.45" fill="#5cc863"/>
<rect x="186.51" y="742.55" width="10.61" height="10.45" fill="#6ece58"/>
<rect x="197.12" y="742.55" width="10.61" height="10.45" fill="#44bf70"/>
<rect x="207.73" y="742.55" width="10.61" height="10.45" fill="#5cc863"/>
<rect x="218.34" y="742.55" width="10.61" height="10.45" fill="#44bf70"/>
<rect x="228.95" y="742.55" width="10.61" height="10.45" fill="#1fa287"/>
<rect x="239.56" y="742.55" width="10.61" height="10.45" fill="#44bf70"/>
<rect x="250.17" y="742.55" width="10.61" height="10.45" fill="#6ece58"/>
<rect x="260.78" y="742.55" width="10.61" height="10.45" fill="#20938c"/>
<rect x="271.39" y="742.55" width="10.61" height="10.45" fill="#81d34d"/>
<rect x="282.00" y="742.55" width="10.61" height="10.45" fill="#58c765"/>
<rect x="292.61" y="742.55" width="10.61" height="10.45" fill="#5cc863"/>
<rect x="303.22" y="742.55" width="10.61" height="10.45" fill="#6ece58"/>
<rect x="313.83" y="742.55" width="10.61" height="10.45" fill="#228c8d"/>
<rect x="324.44" y="742.55" width="10.61" height="10.45" fill="#48c16e"/>
<rect x="335.05" y="742.55" width="10.61" height="10.45" fill="#44bf70"/>
<rect x="345.66" y="742.55" width="10.61" height="10.45" fill="#24aa83"/>
<rect x="356.27" y="742.55" width="10.61" height="10.45" fill="#5cc863"/>
<rect x="366.88" y="742.55" width="10.61" height="10.45" fill="#5cc863"/>
<rect x="377.49" y="742.55" width="10.61" height="10.45" fill="#5cc863"/>
<rect x="388.10" y="742.55" width="10.61" height="10.45" fill="#5cc863"/>
<rect x="398.71" y="742.55" width="10.61" height="10.45" fill="#fde725"/>
<rect x="69.80" y="753.00" width="10.61" height="10.45" fill="#228c8d"/>
<rect x="80.41" y="753.00" width="10.61" height="10.45" fill="#25848e"/>
<rect x="91.02" y="753.00" width="10.61" height="10.45" fill="#228c8d"/>
<rect x="101.63" y="753.00" width="10.61" height="10.45" fill="#1e9b8a"/>
<rect x="112.24" y="753.00" width="10.61" height="10.45" fill="#38588c"/>
<rect x="122.85" y="753.00" width="10.61" height="10.45" fill="#20938c"/>
<rect x="133.46" y="753.00" width="10.61" height="10.45" fill="#20938c"/>
<rect x="144.07" y="753.00" width="10.61" height="10.45" fill="#228c8d"/>
<rect x="154.68" y="753.00" width="10.61" height="10.45" fill="#58c765"/>
<rect x="165.29" y="753.00" width="10.61" height="10.45" fill="#44bf70"/>
<rect x="175.90" y="753.00" width="10.61" height="10.45" fill="#5cc863"/>
<rect x="186.51" y="753.00" width="10.61" height="10.45" fill="#d5e21a"/>
<rect x="197.12" y="753.00" width="10.61" height="10.45" fill="#5cc863"/>
<rect x="207.73" y="753.00" width="10.61" height="10.45" fill="#d5e21a"/>
<rect x="218.34" y="753.00" width="10.61" height="10.45" fill="#48c16e"/>
<rect x="228.95" y="753.00" width="10.61" height="10.45" fill="#5cc863"/>
<rect x="239.56" y="753.00" width="10.61" height="10.45" fill="#44bf70"/>
<rect x="250.17" y="753.00" width="10.61" height="10.45" fill="#81d34d"/>
<rect x="260.78" y="753.00" width="10.61" height="10.45" fill="#24aa83"/>
<rect x="271.39" y="753.00" width="10.61" height="10.45" fill="#6ece58"/>
<rect x="282.00" y="753.00" width="10.61" height="10.45" fill="#44bf70"/>
<rect x="292.61" y="753.00" width="10.61" height="10.45" fill="#5cc863"/>
<rect x="303.22" y="753.00" width="10.61" height="10.45" fill="#81d34d"/>
<rect x="313.83" y="753.00" width="10.61" height="10.45" fill="#1e9b8a"/>
<rect x="324.44" y="753.00" width="10.61" height="10.45" fill="#6ece58"/>
<rect x="335.05" y="753.00" width="10.61" height="10.45" fill="#58c765"/>
<rect x="345.66" y="753.00" width="10.61" height="10.45" fill="#81d34d"/>
<rect x="356.27" y="753.00" width="10.61" height="10.45" fill="#6ece58"/>
<rect x="366.88" y="753.00" width="10.61" height="10.45" fill="#aadc32"/>
<rect x="377.49" y="753.00" width="10.61" height="10.45" fill="#81d34d"/>
<rect x="388.10" y="753.00" width="10.61" height="10.45" fill="#5cc863"/>
<rect x="398.71" y="753.00" width="10.61" height="10.45" fill="#58c765"/>
<rect x="409.32" y="753.00" width="10.61" height="10.45" fill="#fde725"/>
<rect x="69.80" y="763.45" width="10.61" height="10.45" fill="#1fa287"/>
<rect x="80.41" y="763.45" width="10.61" height="10.45" fill="#1e9b8a"/>
<rect x="91.02" y="763.45" width="10.61" height="10.45" fill="#1fa287"/>
<rect x="101.63" y="763.45" width="10.61" height="10.45" fill="#24aa83"/>
<rect x="112.24" y="763.45" width="10.61" height="10.45" fill="#25848e"/>
<rect x="122.85" y="763.45" width="10.61" height="10.45" fill="#1fa287"/>
<rect x="133.46" y="763.45" width="10.61" height="10.45" fill="#1e9b8a"/>
<rect x="144.07" y="763.45" width="10.61" height="10.45" fill="#1e9b8a"/>
<rect x="154.68" y="763.45" width="10.61" height="10.45" fill="#95d840"/>
<rect x="165.29" y="763.45" width="10.61" height="10.45" fill="#44bf70"/>
<rect x="175.90" y="763.45" width="10.61" height="10.45" fill="#37b878"/>
<rect x="186.51" y="763.45" width="10.61" height="10.45" fill="#44bf70"/>
<rect x="197.12" y="763.45" width="10.61" height="10.45" fill="#37b878"/>
<rect x="207.73" y="763.45" width="10.61" height="10.45" fill="#48c16e"/>
<rect x="218.34" y="763.45" width="10.61" height="10.45" fill="#2c738e"/>
<rect x="228.95" y="763.45" width="10.61" height="10.45" fill="#5cc863"/>
<rect x="239.56" y="763.45" width="10.61" height="10.45" fill="#24aa83"/>
<rect x="250.17" y="763.45" width="10.61" height="10.45" fill="#6ece58"/>
<rect x="260.78" y="763.45" width="10.61" height="10.45" fill="#37b878"/>
<rect x="271.39" y="763.45" width="10.61" height="10.45" fill="#48c16e"/>
<rect x="282.00" y="763.45" width="10.61" height="10.45" fill="#24aa83"/>
<rect x="292.61" y="763.45" width="10.61" height="10.45" fill="#24aa83"/>
<rect x="303.22" y="763.45" width="10.61" height="10.45" fill="#58c765"/>
<rect x="313.83" y="763.45" width="10.61" height="10.45" fill="#228c8d"/>
<rect x="324.44" y="763.45" width="10.61" height="10.45" fill="#6ece58"/>
<rect x="335.05" y="763.45" width="10.61" height="10.45" fill="#20938c"/>
<rect x="345.66" y="763.45" width="10.61" height="10.45" fill="#2cb17e"/>
<rect x="356.27" y="763.45" width="10.61" height="10.45" fill="#81d34d"/>
<rect x="366.88" y="763.45" width="10.61" height="10.45" fill="#5cc863"/>
<rect x="377.49" y="763.45" width="10.61" height="10.45" fill="#48c16e"/>
<rect x="388.10" y="763.45" width="10.61" height="10.45" fill="#58c765"/>
<rect x="398.71" y="763.45" width="10.61" height="10.45" fill="#58c765"/>
<rect x="409.32" y="763.45" width="10.61" height="10.45" fill="#58c765"/>
<rect x="419.93" y="763.45" width="10.61" height="10.45" fill="#fde725"/>
<rect x="69.80" y="773.90" width="10.61" height="10.45" fill="#20938c"/>
<rect x="80.41" y="773.90" width="10.61" height="10.45" fill="#228c8d"/>
<rect x="91.02" y="773.90" width="10.61" height="10.45" fill="#228c8d"/>
<rect x="101.63" y="773.90" width="10.61" height="10.45" fill="#1e9b8a"/>
<rect x="112.24" y="773.90" width="10.61" height="10.45" fill="#2e6f8e"/>
<rect x="122.85" y="773.90" width="10.61" height="10.45" fill="#20938c"/>
<rect x="133.46" y="773.90" width="10.61" height="10.45" fill="#1e9b8a"/>
<rect x="144.07" y="773.90" width="10.61" height="10.45" fill="#20938c"/>
<rect x="154.68" y="773.90" width="10.61" height="10.45" fill="#58c765"/>
<rect x="165.29" y="773.90" width="10.61" height="10.45" fill="#2cb17e"/>
<rect x="175.90" y="773.90" width="10.61" height="10.45" fill="#5cc863"/>
<rect x="186.51" y="773.90" width="10.61" height="10.45" fill="#5cc863"/>
<rect x="197.12" y="773.90" width="10.61" height="10.45" fill="#58c765"/>
<rect x="207.73" y="773.90" width="10.61" height="10.45" fill="#5cc863"/>
<rect x="218.34" y="773.90" width="10.61" height="10.45" fill="#24aa83"/>
<rect x="228.95" y="773.90" width="10.61" height="10.45" fill="#c0df25"/>
<rect x="239.56" y="773.90" width="10.61" height="10.45" fill="#37b878"/>
<rect x="250.17" y="773.90" width="10.61" height="10.45" fill="#81d34d"/>
<rect x="260.78" y="773.90" width="10.61" height="10.45" fill="#2cb17e"/>
<rect x="271.39" y="773.90" width="10.61" height="10.45" fill="#58c765"/>
<rect x="282.00" y="773.90" width="10.61" height="10.45" fill="#2cb17e"/>
<rect x="292.61" y="773.90" width="10.61" height="10.45" fill="#44bf70"/>
<rect x="303.22" y="773.90" width="10.61" height="10.45" fill="#5cc863"/>
<rect x="313.83" y="773.90" width="10.61" height="10.45" fill="#20938c"/>
<rect x="324.44" y="773.90" width="10.61" height="10.45" fill="#aadc32"/>
<rect x="335.05" y="773.90" width="10.61" height="10.45" fill="#24aa83"/>
<rect x="345.66" y="773.90" width="10.61" height="10.45" fill="#44bf70"/>
<rect x="356.27" y="773.90" width="10.61" height="10.45" fill="#95d840"/>
<rect x="366.88" y="773.90" width="10.61" height="10.45" fill="#5cc863"/>
<rect x="377.49" y="773.90" width="10.61" height="10.45" fill="#48c16e"/>
<rect x="388.10" y="773.90" width="10.61" height="10.45" fill="#5cc863"/>
<rect x="398.71" y="773.90" width="10.61" height="10.45" fill="#44bf70"/>
<rect x="409.32" y="773.90" width="10.61" height="10.45" fill="#6ece58"/>
<rect x="419.93" y="773.90" width="10.61" height="10.45" fill="#c0df25"/>
<rect x="430.54" y="773.90" width="10.61" height="10.45" fill="#fde725"/>
<rect x="69.80" y="784.35" width="10.61" height="10.45" fill="#6ece58"/>
<rect x="80.41" y="784.35" width="10.61" height="10.45" fill="#44bf70"/>
<rect x="91.02" y="784.35" width="10.61" height="10.45" fill="#5cc863"/>
<rect x="101.63" y="784.35" width="10.61" height="10.45" fill="#58c765"/>
<rect x="112.24" y="784.35" width="10.61" height="10.45" fill="#24aa83"/>
<rect x="122.85" y="784.35" width="10.61" height="10.45" fill="#44bf70"/>
<rect x="133.46" y="784.35" width="10.61" height="10.45" fill="#6ece58"/>
<rect x="144.07" y="784.35" width="10.61" height="10.45" fill="#2a768e"/>
<rect x="154.68" y="784.35" width="10.61" height="10.45" fill="#2cb17e"/>
<rect x="165.29" y="784.35" width="10.61" height="10.45" fill="#81d34d"/>
<rect x="175.90" y="784.35" width="10.61" height="10.45" fill="#44bf70"/>
<rect x="186.51" y="784.35" width="10.61" height="10.45" fill="#44bf70"/>
<rect x="197.12" y="784.35" width="10.61" height="10.45" fill="#24aa83"/>
<rect x="207.73" y="784.35" width="10.61" height="10.45" fill="#58c765"/>
<rect x="218.34" y="784.35" width="10.61" height="10.45" fill="#95d840"/>
<rect x="228.95" y="784.35" width="10.61" height="10.45" fill="#2c738e"/>
<rect x="239.56" y="784.35" width="10.61" height="10.45" fill="#d5e21a"/>
<rect x="250.17" y="784.35" width="10.61" height="10.45" fill="#1fa287"/>
<rect x="260.78" y="784.35" width="10.61" height="10.45" fill="#44bf70"/>
<rect x="271.39" y="784.35" width="10.61" height="10.45" fill="#44bf70"/>
<rect x="282.00" y="784.35" width="10.61" height="10.45" fill="#d5e21a"/>
<rect x="292.61" y="784.35" width="10.61" height="10.45" fill="#20938c"/>
<rect x="303.22" y="784.35" width="10.61" height="10.45" fill="#24aa83"/>
<rect x="313.83" y="784.35" width="10.61" height="10.45" fill="#24aa83"/>
<rect x="324.44" y="784.35" width="10.61" height="10.45" fill="#2cb17e"/>
<rect x="335.05" y="784.35" width="10.61" height="10.45" fill="#48c16e"/>
<rect x="345.66" y="784.35" width="10.61" height="10.45" fill="#44bf70"/>
<rect x="356.27" y="784.35" width="10.61" height="10.45" fill="#6ece58"/>
<rect x="366.88" y="784.35" width="10.61" height="10.45" fill="#58c765"/>
<rect x="377.49" y="784.35" width="10.61" height="10.45" fill="#44bf70"/>
<rect x="388.10" y="784.35" width="10.61" height="10.45" fill="#48c16e"/>
<rect x="398.71" y="784.35" width="10.61" height="10.45" fill="#48c16e"/>
<rect x="409.32" y="784.35" width="10.61" height="10.45" fill="#48c16e"/>
<rect x="419.93" y="784.35" width="10.61" height="10.45" fill="#2cb17e"/>
<rect x="430.54" y="784.35" width="10.61" height="10.45" fill="#44bf70"/>
<rect x="441.15" y="784.35" width="10.61" height="10.45" fill="#fde725"/>
<rect x="69.80" y="794.80" width="10.61" height="10.45" fill="#58c765"/>
<rect x="80.41" y="794.80" width="10.61" height="10.45" fill="#48c16e"/>
<rect x="91.02" y="794.80" width="10.61" height="10.45" fill="#48c16e"/>
<rect x="101.63" y="794.80" width="10.61" height="10.45" fill="#58c765"/>
<rect x="112.24" y="794.80" width="10.61" height="10.45" fill="#1fa287"/>
<rect x="122.85" y="794.80" width="10.61" height="10.45" fill="#44bf70"/>
<rect x="133.46" y="794.80" width="10.61" height="10.45" fill="#6ece58"/>
<rect x="144.07" y="794.80" width="10.61" height="10.45" fill="#3c4f8a"/>
<rect x="154.68" y="794.80" width="10.61" height="10.45" fill="#24aa83"/>
<rect x="165.29" y="794.80" width="10.61" height="10.45" fill="#6ece58"/>
<rect x="175.90" y="794.80" width="10.61" height="10.45" fill="#24aa83"/>
<rect x="186.51" y="794.80" width="10.61" height="10.45" fill="#37b878"/>
<rect x="197.12" y="794.80" width="10.61" height="10.45" fill="#1fa287"/>
<rect x="207.73" y="794.80" width="10.61" height="10.45" fill="#58c765"/>
<rect x="218.34" y="794.80" width="10.61" height="10.45" fill="#24aa83"/>
<rect x="228.95" y="794.80" width="10.61" height="10.45" fill="#2c738e"/>
<rect x="239.56" y="794.80" width="10.61" height="10.45" fill="#44bf70"/>
<rect x="250.17" y="794.80" width="10.61" height="10.45" fill="#24aa83"/>
<rect x="260.78" y="794.80" width="10.61" height="10.45" fill="#1fa287"/>
<rect x="271.39" y="794.80" width="10.61" height="10.45" fill="#24aa83"/>
<rect x="282.00" y="794.80" width="10.61" height="10.45" fill="#5cc863"/>
<rect x="292.61" y="794.80" width="10.61" height="10.45" fill="#1fa287"/>
<rect x="303.22" y="794.80" width="10.61" height="10.45" fill="#24aa83"/>
<rect x="313.83" y="794.80" width="10.61" height="10.45" fill="#25848e"/>
<rect x="324.44" y="794.80" width="10.61" height="10.45" fill="#24aa83"/>
<rect x="335.05" y="794.80" width="10.61" height="10.45" fill="#1fa287"/>
<rect x="345.66" y="794.80" width="10.61" height="10.45" fill="#6ece58"/>
<rect x="356.27" y="794.80" width="10.61" height="10.45" fill="#48c16e"/>
<rect x="366.88" y="794.80" width="10.61" height="10.45" fill="#48c16e"/>
<rect x="377.49" y="794.80" width="10.61" height="10.45" fill="#58c765"/>
<rect x="388.10" y="794.80" width="10.61" height="10.45" fill="#24aa83"/>
<rect x="398.71" y="794.80" width="10.61" height="10.45" fill="#48c16e"/>
<rect x="409.32" y="794.80" width="10.61" height="10.45" fill="#48c16e"/>
<rect x="419.93" y="794.80" width="10.61" height="10.45" fill="#24aa83"/>
<rect x="430.54" y="794.80" width="10.61" height="10.45" fill="#24aa83"/>
<rect x="441.15" y="794.80" width="10.61" height="10.45" fill="#48c16e"/>
<rect x="451.76" y="794.80" width="10.61" height="10.45" fill="#fde725"/>
</g>
<g stroke="none">
<circle cx="72.48" cy="436.90" r="0.85" fill="#111"/>
<circle cx="74.23" cy="435.15" r="0.85" fill="#111"/>
<circle cx="75.98" cy="433.40" r="0.85" fill="#111"/>
<circle cx="77.73" cy="431.65" r="0.85" fill="#111"/>
<circle cx="72.48" cy="447.35" r="0.85" fill="#111"/>
<circle cx="74.23" cy="445.60" r="0.85" fill="#111"/>
<circle cx="75.98" cy="443.85" r="0.85" fill="#111"/>
<circle cx="77.73" cy="442.10" r="0.85" fill="#111"/>
<circle cx="83.97" cy="446.48" r="0.85" fill="#111"/>
<circle cx="85.72" cy="444.73" r="0.85" fill="#111"/>
<circle cx="87.47" cy="442.98" r="0.85" fill="#111"/>
<circle cx="72.48" cy="457.80" r="0.85" fill="#111"/>
<circle cx="74.23" cy="456.05" r="0.85" fill="#111"/>
<circle cx="75.98" cy="454.30" r="0.85" fill="#111"/>
<circle cx="77.73" cy="452.55" r="0.85" fill="#111"/>
<circle cx="83.97" cy="456.93" r="0.85" fill="#111"/>
<circle cx="85.72" cy="455.18" r="0.85" fill="#111"/>
<circle cx="87.47" cy="453.43" r="0.85" fill="#111"/>
<circle cx="93.70" cy="457.80" r="0.85" fill="#111"/>
<circle cx="95.45" cy="456.05" r="0.85" fill="#111"/>
<circle cx="97.20" cy="454.30" r="0.85" fill="#111"/>
<circle cx="98.95" cy="452.55" r="0.85" fill="#111"/>
<circle cx="72.48" cy="468.25" r="0.85" fill="#111"/>
<circle cx="74.23" cy="466.50" r="0.85" fill="#111"/>
<circle cx="75.98" cy="464.75" r="0.85" fill="#111"/>
<circle cx="77.73" cy="463.00" r="0.85" fill="#111"/>
<circle cx="83.97" cy="467.38" r="0.85" fill="#111"/>
<circle cx="85.72" cy="465.63" r="0.85" fill="#111"/>
<circle cx="87.47" cy="463.88" r="0.85" fill="#111"/>
<circle cx="93.70" cy="468.25" r="0.85" fill="#111"/>
<circle cx="95.45" cy="466.50" r="0.85" fill="#111"/>
<circle cx="97.20" cy="464.75" r="0.85" fill="#111"/>
<circle cx="98.95" cy="463.00" r="0.85" fill="#111"/>
<circle cx="105.19" cy="467.38" r="0.85" fill="#111"/>
<circle cx="106.94" cy="465.63" r="0.85" fill="#111"/>
<circle cx="108.69" cy="463.88" r="0.85" fill="#111"/>
<circle cx="72.48" cy="478.70" r="0.85" fill="#111"/>
<circle cx="74.23" cy="476.95" r="0.85" fill="#111"/>
<circle cx="75.98" cy="475.20" r="0.85" fill="#111"/>
<circle cx="77.73" cy="473.45" r="0.85" fill="#111"/>
<circle cx="83.97" cy="477.83" r="0.85" fill="#111"/>
<circle cx="85.72" cy="476.08" r="0.85" fill="#111"/>
<circle cx="87.47" cy="474.33" r="0.85" fill="#111"/>
<circle cx="93.70" cy="478.70" r="0.85" fill="#111"/>
<circle cx="95.45" cy="476.95" r="0.85" fill="#111"/>
<circle cx="97.20" cy="475.20" r="0.85" fill="#111"/>
<circle cx="98.95" cy="473.45" r="0.85" fill="#111"/>
<circle cx="104.31" cy="478.70" r="0.85" fill="#111"/>
<circle cx="106.06" cy="476.95" r="0.85" fill="#111"/>
<circle cx="107.81" cy="475.20" r="0.85" fill="#111"/>
<circle cx="109.56" cy="473.45" r="0.85" fill="#111"/>
<circle cx="115.79" cy="477.83" r="0.85" fill="#111"/>
<circle cx="117.54" cy="476.08" r="0.85" fill="#111"/>
<circle cx="119.29" cy="474.33" r="0.85" fill="#111"/>
<circle cx="72.48" cy="489.15" r="0.85" fill="#111"/>
<circle cx="74.23" cy="487.40" r="0.85" fill="#111"/>
<circle cx="75.98" cy="485.65" r="0.85" fill="#111"/>
<circle cx="77.73" cy="483.90" r="0.85" fill="#111"/>
<circle cx="83.97" cy="488.28" r="0.85" fill="#111"/>
<circle cx="85.72" cy="486.53" r="0.85" fill="#111"/>
<circle cx="87.47" cy="484.78" r="0.85" fill="#111"/>
<circle cx="93.70" cy="489.15" r="0.85" fill="#111"/>
<circle cx="95.45" cy="487.40" r="0.85" fill="#111"/>
<circle cx="97.20" cy="485.65" r="0.85" fill="#111"/>
<circle cx="98.95" cy="483.90" r="0.85" fill="#111"/>
<circle cx="104.31" cy="489.15" r="0.85" fill="#111"/>
<circle cx="106.06" cy="487.40" r="0.85" fill="#111"/>
<circle cx="107.81" cy="485.65" r="0.85" fill="#111"/>
<circle cx="109.56" cy="483.90" r="0.85" fill="#111"/>
<circle cx="115.79" cy="488.28" r="0.85" fill="#111"/>
<circle cx="117.54" cy="486.53" r="0.85" fill="#111"/>
<circle cx="119.29" cy="484.78" r="0.85" fill="#111"/>
<circle cx="125.53" cy="489.15" r="0.85" fill="#111"/>
<circle cx="127.28" cy="487.40" r="0.85" fill="#111"/>
<circle cx="129.03" cy="485.65" r="0.85" fill="#111"/>
<circle cx="130.78" cy="483.90" r="0.85" fill="#111"/>
<circle cx="72.48" cy="520.50" r="0.85" fill="#111"/>
<circle cx="74.23" cy="518.75" r="0.85" fill="#111"/>
<circle cx="75.98" cy="517.00" r="0.85" fill="#111"/>
<circle cx="77.73" cy="515.25" r="0.85" fill="#111"/>
<circle cx="83.97" cy="519.62" r="0.85" fill="#111"/>
<circle cx="85.72" cy="517.88" r="0.85" fill="#111"/>
<circle cx="87.47" cy="516.12" r="0.85" fill="#111"/>
<circle cx="93.70" cy="520.50" r="0.85" fill="#111"/>
<circle cx="95.45" cy="518.75" r="0.85" fill="#111"/>
<circle cx="97.20" cy="517.00" r="0.85" fill="#111"/>
<circle cx="98.95" cy="515.25" r="0.85" fill="#111"/>
<circle cx="105.19" cy="519.62" r="0.85" fill="#111"/>
<circle cx="106.94" cy="517.88" r="0.85" fill="#111"/>
<circle cx="108.69" cy="516.12" r="0.85" fill="#111"/>
<circle cx="128.16" cy="517.88" r="0.85" fill="#111"/>
<circle cx="136.14" cy="520.50" r="0.85" fill="#111"/>
<circle cx="137.89" cy="518.75" r="0.85" fill="#111"/>
<circle cx="139.64" cy="517.00" r="0.85" fill="#111"/>
<circle cx="141.39" cy="515.25" r="0.85" fill="#111"/>
<circle cx="158.24" cy="530.08" r="0.85" fill="#111"/>
<circle cx="159.99" cy="528.33" r="0.85" fill="#111"/>
<circle cx="161.74" cy="526.58" r="0.85" fill="#111"/>
<circle cx="158.24" cy="540.52" r="0.85" fill="#111"/>
<circle cx="159.99" cy="538.77" r="0.85" fill="#111"/>
<circle cx="161.74" cy="537.02" r="0.85" fill="#111"/>
<circle cx="180.33" cy="539.65" r="0.85" fill="#111"/>
<circle cx="182.08" cy="537.90" r="0.85" fill="#111"/>
<circle cx="158.24" cy="550.98" r="0.85" fill="#111"/>
<circle cx="159.99" cy="549.23" r="0.85" fill="#111"/>
<circle cx="161.74" cy="547.48" r="0.85" fill="#111"/>
<circle cx="178.58" cy="551.85" r="0.85" fill="#111"/>
<circle cx="180.33" cy="550.10" r="0.85" fill="#111"/>
<circle cx="182.08" cy="548.35" r="0.85" fill="#111"/>
<circle cx="183.83" cy="546.60" r="0.85" fill="#111"/>
<circle cx="190.06" cy="550.98" r="0.85" fill="#111"/>
<circle cx="191.81" cy="549.23" r="0.85" fill="#111"/>
<circle cx="193.56" cy="547.48" r="0.85" fill="#111"/>
<circle cx="158.24" cy="561.43" r="0.85" fill="#111"/>
<circle cx="159.99" cy="559.68" r="0.85" fill="#111"/>
<circle cx="161.74" cy="557.93" r="0.85" fill="#111"/>
<circle cx="178.58" cy="562.30" r="0.85" fill="#111"/>
<circle cx="180.33" cy="560.55" r="0.85" fill="#111"/>
<circle cx="182.08" cy="558.80" r="0.85" fill="#111"/>
<circle cx="183.83" cy="557.05" r="0.85" fill="#111"/>
<circle cx="190.06" cy="561.43" r="0.85" fill="#111"/>
<circle cx="191.81" cy="559.68" r="0.85" fill="#111"/>
<circle cx="193.56" cy="557.93" r="0.85" fill="#111"/>
<circle cx="200.68" cy="561.43" r="0.85" fill="#111"/>
<circle cx="202.43" cy="559.68" r="0.85" fill="#111"/>
<circle cx="204.18" cy="557.93" r="0.85" fill="#111"/>
<circle cx="75.10" cy="570.12" r="0.85" fill="#111"/>
<circle cx="170.59" cy="570.12" r="0.85" fill="#111"/>
<circle cx="180.33" cy="571.00" r="0.85" fill="#111"/>
<circle cx="182.08" cy="569.25" r="0.85" fill="#111"/>
<circle cx="191.81" cy="570.12" r="0.85" fill="#111"/>
<circle cx="202.43" cy="570.12" r="0.85" fill="#111"/>
<circle cx="212.16" cy="571.00" r="0.85" fill="#111"/>
<circle cx="213.91" cy="569.25" r="0.85" fill="#111"/>
<circle cx="158.24" cy="582.33" r="0.85" fill="#111"/>
<circle cx="159.99" cy="580.58" r="0.85" fill="#111"/>
<circle cx="161.74" cy="578.83" r="0.85" fill="#111"/>
<circle cx="179.45" cy="582.33" r="0.85" fill="#111"/>
<circle cx="181.20" cy="580.58" r="0.85" fill="#111"/>
<circle cx="182.95" cy="578.83" r="0.85" fill="#111"/>
<circle cx="190.06" cy="582.33" r="0.85" fill="#111"/>
<circle cx="191.81" cy="580.58" r="0.85" fill="#111"/>
<circle cx="193.56" cy="578.83" r="0.85" fill="#111"/>
<circle cx="200.68" cy="582.33" r="0.85" fill="#111"/>
<circle cx="202.43" cy="580.58" r="0.85" fill="#111"/>
<circle cx="204.18" cy="578.83" r="0.85" fill="#111"/>
<circle cx="211.29" cy="582.33" r="0.85" fill="#111"/>
<circle cx="213.04" cy="580.58" r="0.85" fill="#111"/>
<circle cx="214.79" cy="578.83" r="0.85" fill="#111"/>
<circle cx="75.10" cy="591.02" r="0.85" fill="#111"/>
<circle cx="85.72" cy="591.02" r="0.85" fill="#111"/>
<circle cx="94.57" cy="592.77" r="0.85" fill="#111"/>
<circle cx="96.32" cy="591.02" r="0.85" fill="#111"/>
<circle cx="98.07" cy="589.27" r="0.85" fill="#111"/>
<circle cx="106.94" cy="591.02" r="0.85" fill="#111"/>
<circle cx="128.16" cy="591.02" r="0.85" fill="#111"/>
<circle cx="137.01" cy="592.77" r="0.85" fill="#111"/>
<circle cx="138.76" cy="591.02" r="0.85" fill="#111"/>
<circle cx="140.51" cy="589.27" r="0.85" fill="#111"/>
<circle cx="168.84" cy="592.77" r="0.85" fill="#111"/>
<circle cx="170.59" cy="591.02" r="0.85" fill="#111"/>
<circle cx="172.34" cy="589.27" r="0.85" fill="#111"/>
<circle cx="191.81" cy="591.02" r="0.85" fill="#111"/>
<circle cx="213.04" cy="591.02" r="0.85" fill="#111"/>
<circle cx="221.89" cy="592.77" r="0.85" fill="#111"/>
<circle cx="223.64" cy="591.02" r="0.85" fill="#111"/>
<circle cx="225.39" cy="589.27" r="0.85" fill="#111"/>
<circle cx="158.24" cy="603.23" r="0.85" fill="#111"/>
<circle cx="159.99" cy="601.48" r="0.85" fill="#111"/>
<circle cx="161.74" cy="599.73" r="0.85" fill="#111"/>
<circle cx="179.45" cy="603.23" r="0.85" fill="#111"/>
<circle cx="181.20" cy="601.48" r="0.85" fill="#111"/>
<circle cx="182.95" cy="599.73" r="0.85" fill="#111"/>
<circle cx="190.94" cy="602.35" r="0.85" fill="#111"/>
<circle cx="192.69" cy="600.60" r="0.85" fill="#111"/>
<circle cx="200.68" cy="603.23" r="0.85" fill="#111"/>
<circle cx="202.43" cy="601.48" r="0.85" fill="#111"/>
<circle cx="204.18" cy="599.73" r="0.85" fill="#111"/>
<circle cx="212.16" cy="602.35" r="0.85" fill="#111"/>
<circle cx="213.91" cy="600.60" r="0.85" fill="#111"/>
<circle cx="232.50" cy="603.23" r="0.85" fill="#111"/>
<circle cx="234.25" cy="601.48" r="0.85" fill="#111"/>
<circle cx="236.00" cy="599.73" r="0.85" fill="#111"/>
<circle cx="149.38" cy="611.93" r="0.85" fill="#111"/>
<circle cx="168.84" cy="613.68" r="0.85" fill="#111"/>
<circle cx="170.59" cy="611.93" r="0.85" fill="#111"/>
<circle cx="172.34" cy="610.18" r="0.85" fill="#111"/>
<circle cx="157.36" cy="625.00" r="0.85" fill="#111"/>
<circle cx="159.11" cy="623.25" r="0.85" fill="#111"/>
<circle cx="160.86" cy="621.50" r="0.85" fill="#111"/>
<circle cx="162.61" cy="619.75" r="0.85" fill="#111"/>
<circle cx="178.58" cy="625.00" r="0.85" fill="#111"/>
<circle cx="180.33" cy="623.25" r="0.85" fill="#111"/>
<circle cx="182.08" cy="621.50" r="0.85" fill="#111"/>
<circle cx="183.83" cy="619.75" r="0.85" fill="#111"/>
<circle cx="190.06" cy="624.12" r="0.85" fill="#111"/>
<circle cx="191.81" cy="622.38" r="0.85" fill="#111"/>
<circle cx="193.56" cy="620.62" r="0.85" fill="#111"/>
<circle cx="199.80" cy="625.00" r="0.85" fill="#111"/>
<circle cx="201.55" cy="623.25" r="0.85" fill="#111"/>
<circle cx="203.30" cy="621.50" r="0.85" fill="#111"/>
<circle cx="205.05" cy="619.75" r="0.85" fill="#111"/>
<circle cx="211.29" cy="624.12" r="0.85" fill="#111"/>
<circle cx="213.04" cy="622.38" r="0.85" fill="#111"/>
<circle cx="214.79" cy="620.62" r="0.85" fill="#111"/>
<circle cx="222.77" cy="623.25" r="0.85" fill="#111"/>
<circle cx="224.52" cy="621.50" r="0.85" fill="#111"/>
<circle cx="232.50" cy="624.12" r="0.85" fill="#111"/>
<circle cx="234.25" cy="622.38" r="0.85" fill="#111"/>
<circle cx="236.00" cy="620.62" r="0.85" fill="#111"/>
<circle cx="253.73" cy="624.12" r="0.85" fill="#111"/>
<circle cx="255.48" cy="622.38" r="0.85" fill="#111"/>
<circle cx="257.23" cy="620.62" r="0.85" fill="#111"/>
<circle cx="73.35" cy="634.58" r="0.85" fill="#111"/>
<circle cx="75.10" cy="632.83" r="0.85" fill="#111"/>
<circle cx="76.85" cy="631.08" r="0.85" fill="#111"/>
<circle cx="85.72" cy="632.83" r="0.85" fill="#111"/>
<circle cx="95.45" cy="633.70" r="0.85" fill="#111"/>
<circle cx="97.20" cy="631.95" r="0.85" fill="#111"/>
<circle cx="106.06" cy="633.70" r="0.85" fill="#111"/>
<circle cx="107.81" cy="631.95" r="0.85" fill="#111"/>
<circle cx="128.16" cy="632.83" r="0.85" fill="#111"/>
<circle cx="137.01" cy="634.58" r="0.85" fill="#111"/>
<circle cx="138.76" cy="632.83" r="0.85" fill="#111"/>
<circle cx="140.51" cy="631.08" r="0.85" fill="#111"/>
<circle cx="167.97" cy="635.45" r="0.85" fill="#111"/>
<circle cx="169.72" cy="633.70" r="0.85" fill="#111"/>
<circle cx="171.47" cy="631.95" r="0.85" fill="#111"/>
<circle cx="173.22" cy="630.20" r="0.85" fill="#111"/>
<circle cx="221.89" cy="634.58" r="0.85" fill="#111"/>
<circle cx="223.64" cy="632.83" r="0.85" fill="#111"/>
<circle cx="225.39" cy="631.08" r="0.85" fill="#111"/>
<circle cx="242.24" cy="635.45" r="0.85" fill="#111"/>
<circle cx="243.99" cy="633.70" r="0.85" fill="#111"/>
<circle cx="245.74" cy="631.95" r="0.85" fill="#111"/>
<circle cx="247.49" cy="630.20" r="0.85" fill="#111"/>
<circle cx="266.08" cy="632.83" r="0.85" fill="#111"/>
<circle cx="116.67" cy="644.15" r="0.85" fill="#f0b0e0"/>
<circle cx="118.42" cy="642.40" r="0.85" fill="#f0b0e0"/>
<circle cx="158.24" cy="645.02" r="0.85" fill="#111"/>
<circle cx="159.99" cy="643.27" r="0.85" fill="#111"/>
<circle cx="161.74" cy="641.52" r="0.85" fill="#111"/>
<circle cx="179.45" cy="645.02" r="0.85" fill="#111"/>
<circle cx="181.20" cy="643.27" r="0.85" fill="#111"/>
<circle cx="182.95" cy="641.52" r="0.85" fill="#111"/>
<circle cx="190.06" cy="645.02" r="0.85" fill="#111"/>
<circle cx="191.81" cy="643.27" r="0.85" fill="#111"/>
<circle cx="193.56" cy="641.52" r="0.85" fill="#111"/>
<circle cx="200.68" cy="645.02" r="0.85" fill="#111"/>
<circle cx="202.43" cy="643.27" r="0.85" fill="#111"/>
<circle cx="204.18" cy="641.52" r="0.85" fill="#111"/>
<circle cx="212.16" cy="644.15" r="0.85" fill="#111"/>
<circle cx="213.91" cy="642.40" r="0.85" fill="#111"/>
<circle cx="234.25" cy="643.27" r="0.85" fill="#111"/>
<circle cx="253.73" cy="645.02" r="0.85" fill="#111"/>
<circle cx="255.48" cy="643.27" r="0.85" fill="#111"/>
<circle cx="257.23" cy="641.52" r="0.85" fill="#111"/>
<circle cx="274.94" cy="645.02" r="0.85" fill="#111"/>
<circle cx="276.69" cy="643.27" r="0.85" fill="#111"/>
<circle cx="278.44" cy="641.52" r="0.85" fill="#111"/>
<circle cx="158.24" cy="655.48" r="0.85" fill="#111"/>
<circle cx="159.99" cy="653.73" r="0.85" fill="#111"/>
<circle cx="161.74" cy="651.98" r="0.85" fill="#111"/>
<circle cx="179.45" cy="655.48" r="0.85" fill="#111"/>
<circle cx="181.20" cy="653.73" r="0.85" fill="#111"/>
<circle cx="182.95" cy="651.98" r="0.85" fill="#111"/>
<circle cx="190.06" cy="655.48" r="0.85" fill="#111"/>
<circle cx="191.81" cy="653.73" r="0.85" fill="#111"/>
<circle cx="193.56" cy="651.98" r="0.85" fill="#111"/>
<circle cx="200.68" cy="655.48" r="0.85" fill="#111"/>
<circle cx="202.43" cy="653.73" r="0.85" fill="#111"/>
<circle cx="204.18" cy="651.98" r="0.85" fill="#111"/>
<circle cx="211.29" cy="655.48" r="0.85" fill="#111"/>
<circle cx="213.04" cy="653.73" r="0.85" fill="#111"/>
<circle cx="214.79" cy="651.98" r="0.85" fill="#111"/>
<circle cx="222.77" cy="654.60" r="0.85" fill="#111"/>
<circle cx="224.52" cy="652.85" r="0.85" fill="#111"/>
<circle cx="274.94" cy="655.48" r="0.85" fill="#111"/>
<circle cx="276.69" cy="653.73" r="0.85" fill="#111"/>
<circle cx="278.44" cy="651.98" r="0.85" fill="#111"/>
<circle cx="296.17" cy="655.48" r="0.85" fill="#111"/>
<circle cx="297.92" cy="653.73" r="0.85" fill="#111"/>
<circle cx="299.67" cy="651.98" r="0.85" fill="#111"/>
<circle cx="158.24" cy="676.38" r="0.85" fill="#111"/>
<circle cx="159.99" cy="674.62" r="0.85" fill="#111"/>
<circle cx="161.74" cy="672.88" r="0.85" fill="#111"/>
<circle cx="179.45" cy="676.38" r="0.85" fill="#111"/>
<circle cx="181.20" cy="674.62" r="0.85" fill="#111"/>
<circle cx="182.95" cy="672.88" r="0.85" fill="#111"/>
<circle cx="190.06" cy="676.38" r="0.85" fill="#111"/>
<circle cx="191.81" cy="674.62" r="0.85" fill="#111"/>
<circle cx="193.56" cy="672.88" r="0.85" fill="#111"/>
<circle cx="200.68" cy="676.38" r="0.85" fill="#111"/>
<circle cx="202.43" cy="674.62" r="0.85" fill="#111"/>
<circle cx="204.18" cy="672.88" r="0.85" fill="#111"/>
<circle cx="211.29" cy="676.38" r="0.85" fill="#111"/>
<circle cx="213.04" cy="674.62" r="0.85" fill="#111"/>
<circle cx="214.79" cy="672.88" r="0.85" fill="#111"/>
<circle cx="231.63" cy="677.25" r="0.85" fill="#111"/>
<circle cx="233.38" cy="675.50" r="0.85" fill="#111"/>
<circle cx="235.13" cy="673.75" r="0.85" fill="#111"/>
<circle cx="236.88" cy="672.00" r="0.85" fill="#111"/>
<circle cx="253.73" cy="676.38" r="0.85" fill="#111"/>
<circle cx="255.48" cy="674.62" r="0.85" fill="#111"/>
<circle cx="257.23" cy="672.88" r="0.85" fill="#111"/>
<circle cx="274.94" cy="676.38" r="0.85" fill="#111"/>
<circle cx="276.69" cy="674.62" r="0.85" fill="#111"/>
<circle cx="278.44" cy="672.88" r="0.85" fill="#111"/>
<circle cx="296.17" cy="676.38" r="0.85" fill="#111"/>
<circle cx="297.92" cy="674.62" r="0.85" fill="#111"/>
<circle cx="299.67" cy="672.88" r="0.85" fill="#111"/>
<circle cx="306.77" cy="676.38" r="0.85" fill="#111"/>
<circle cx="308.52" cy="674.62" r="0.85" fill="#111"/>
<circle cx="310.27" cy="672.88" r="0.85" fill="#111"/>
<circle cx="170.59" cy="685.08" r="0.85" fill="#111"/>
<circle cx="181.20" cy="685.08" r="0.85" fill="#111"/>
<circle cx="191.81" cy="685.08" r="0.85" fill="#111"/>
<circle cx="212.16" cy="685.95" r="0.85" fill="#111"/>
<circle cx="213.91" cy="684.20" r="0.85" fill="#111"/>
<circle cx="223.64" cy="685.08" r="0.85" fill="#111"/>
<circle cx="243.99" cy="685.95" r="0.85" fill="#111"/>
<circle cx="245.74" cy="684.20" r="0.85" fill="#111"/>
<circle cx="287.31" cy="685.08" r="0.85" fill="#111"/>
<circle cx="138.76" cy="695.52" r="0.85" fill="#111"/>
<circle cx="169.72" cy="696.40" r="0.85" fill="#111"/>
<circle cx="171.47" cy="694.65" r="0.85" fill="#111"/>
<circle cx="191.81" cy="695.52" r="0.85" fill="#111"/>
<circle cx="212.16" cy="696.40" r="0.85" fill="#111"/>
<circle cx="213.91" cy="694.65" r="0.85" fill="#111"/>
<circle cx="244.87" cy="695.52" r="0.85" fill="#111"/>
<circle cx="287.31" cy="695.52" r="0.85" fill="#111"/>
<circle cx="308.52" cy="695.52" r="0.85" fill="#111"/>
<circle cx="73.35" cy="707.73" r="0.85" fill="#111"/>
<circle cx="75.10" cy="705.98" r="0.85" fill="#111"/>
<circle cx="76.85" cy="704.23" r="0.85" fill="#111"/>
<circle cx="85.72" cy="705.98" r="0.85" fill="#111"/>
<circle cx="95.45" cy="706.85" r="0.85" fill="#111"/>
<circle cx="97.20" cy="705.10" r="0.85" fill="#111"/>
<circle cx="105.19" cy="707.73" r="0.85" fill="#111"/>
<circle cx="106.94" cy="705.98" r="0.85" fill="#111"/>
<circle cx="108.69" cy="704.23" r="0.85" fill="#111"/>
<circle cx="127.28" cy="706.85" r="0.85" fill="#111"/>
<circle cx="129.03" cy="705.10" r="0.85" fill="#111"/>
<circle cx="138.76" cy="705.98" r="0.85" fill="#111"/>
<circle cx="159.11" cy="706.85" r="0.85" fill="#111"/>
<circle cx="160.86" cy="705.10" r="0.85" fill="#111"/>
<circle cx="180.33" cy="706.85" r="0.85" fill="#111"/>
<circle cx="182.08" cy="705.10" r="0.85" fill="#111"/>
<circle cx="190.94" cy="706.85" r="0.85" fill="#111"/>
<circle cx="192.69" cy="705.10" r="0.85" fill="#111"/>
<circle cx="202.43" cy="705.98" r="0.85" fill="#111"/>
<circle cx="211.29" cy="707.73" r="0.85" fill="#111"/>
<circle cx="213.04" cy="705.98" r="0.85" fill="#111"/>
<circle cx="214.79" cy="704.23" r="0.85" fill="#111"/>
<circle cx="221.89" cy="707.73" r="0.85" fill="#111"/>
<circle cx="223.64" cy="705.98" r="0.85" fill="#111"/>
<circle cx="225.39" cy="704.23" r="0.85" fill="#111"/>
<circle cx="234.25" cy="705.98" r="0.85" fill="#111"/>
<circle cx="243.12" cy="707.73" r="0.85" fill="#111"/>
<circle cx="244.87" cy="705.98" r="0.85" fill="#111"/>
<circle cx="246.62" cy="704.23" r="0.85" fill="#111"/>
<circle cx="255.48" cy="705.98" r="0.85" fill="#111"/>
<circle cx="266.08" cy="705.98" r="0.85" fill="#111"/>
<circle cx="274.94" cy="707.73" r="0.85" fill="#111"/>
<circle cx="276.69" cy="705.98" r="0.85" fill="#111"/>
<circle cx="278.44" cy="704.23" r="0.85" fill="#111"/>
<circle cx="285.56" cy="707.73" r="0.85" fill="#111"/>
<circle cx="287.31" cy="705.98" r="0.85" fill="#111"/>
<circle cx="289.06" cy="704.23" r="0.85" fill="#111"/>
<circle cx="308.52" cy="705.98" r="0.85" fill="#111"/>
<circle cx="329.75" cy="705.98" r="0.85" fill="#111"/>
<circle cx="350.97" cy="705.98" r="0.85" fill="#111"/>
<circle cx="159.11" cy="717.30" r="0.85" fill="#111"/>
<circle cx="160.86" cy="715.55" r="0.85" fill="#111"/>
<circle cx="178.58" cy="719.05" r="0.85" fill="#111"/>
<circle cx="180.33" cy="717.30" r="0.85" fill="#111"/>
<circle cx="182.08" cy="715.55" r="0.85" fill="#111"/>
<circle cx="183.83" cy="713.80" r="0.85" fill="#111"/>
<circle cx="189.19" cy="719.05" r="0.85" fill="#111"/>
<circle cx="190.94" cy="717.30" r="0.85" fill="#111"/>
<circle cx="192.69" cy="715.55" r="0.85" fill="#111"/>
<circle cx="194.44" cy="713.80" r="0.85" fill="#111"/>
<circle cx="199.80" cy="719.05" r="0.85" fill="#111"/>
<circle cx="201.55" cy="717.30" r="0.85" fill="#111"/>
<circle cx="203.30" cy="715.55" r="0.85" fill="#111"/>
<circle cx="205.05" cy="713.80" r="0.85" fill="#111"/>
<circle cx="210.41" cy="719.05" r="0.85" fill="#111"/>
<circle cx="212.16" cy="717.30" r="0.85" fill="#111"/>
<circle cx="213.91" cy="715.55" r="0.85" fill="#111"/>
<circle cx="215.66" cy="713.80" r="0.85" fill="#111"/>
<circle cx="222.77" cy="717.30" r="0.85" fill="#111"/>
<circle cx="224.52" cy="715.55" r="0.85" fill="#111"/>
<circle cx="232.50" cy="718.18" r="0.85" fill="#111"/>
<circle cx="234.25" cy="716.43" r="0.85" fill="#111"/>
<circle cx="236.00" cy="714.68" r="0.85" fill="#111"/>
<circle cx="244.87" cy="716.43" r="0.85" fill="#111"/>
<circle cx="254.60" cy="717.30" r="0.85" fill="#111"/>
<circle cx="256.35" cy="715.55" r="0.85" fill="#111"/>
<circle cx="274.07" cy="719.05" r="0.85" fill="#111"/>
<circle cx="275.82" cy="717.30" r="0.85" fill="#111"/>
<circle cx="277.57" cy="715.55" r="0.85" fill="#111"/>
<circle cx="279.32" cy="713.80" r="0.85" fill="#111"/>
<circle cx="297.04" cy="717.30" r="0.85" fill="#111"/>
<circle cx="298.79" cy="715.55" r="0.85" fill="#111"/>
<circle cx="306.77" cy="718.18" r="0.85" fill="#111"/>
<circle cx="308.52" cy="716.43" r="0.85" fill="#111"/>
<circle cx="310.27" cy="714.68" r="0.85" fill="#111"/>
<circle cx="328.00" cy="718.18" r="0.85" fill="#111"/>
<circle cx="329.75" cy="716.43" r="0.85" fill="#111"/>
<circle cx="331.50" cy="714.68" r="0.85" fill="#111"/>
<circle cx="340.36" cy="716.43" r="0.85" fill="#111"/>
<circle cx="350.97" cy="716.43" r="0.85" fill="#111"/>
<circle cx="360.70" cy="717.30" r="0.85" fill="#111"/>
<circle cx="362.45" cy="715.55" r="0.85" fill="#111"/>
<circle cx="138.76" cy="726.88" r="0.85" fill="#111"/>
<circle cx="169.72" cy="727.75" r="0.85" fill="#111"/>
<circle cx="171.47" cy="726.00" r="0.85" fill="#111"/>
<circle cx="190.94" cy="727.75" r="0.85" fill="#111"/>
<circle cx="192.69" cy="726.00" r="0.85" fill="#111"/>
<circle cx="212.16" cy="727.75" r="0.85" fill="#111"/>
<circle cx="213.91" cy="726.00" r="0.85" fill="#111"/>
<circle cx="244.87" cy="726.88" r="0.85" fill="#111"/>
<circle cx="287.31" cy="726.88" r="0.85" fill="#111"/>
<circle cx="308.52" cy="726.88" r="0.85" fill="#111"/>
<circle cx="329.75" cy="726.88" r="0.85" fill="#111"/>
<circle cx="340.36" cy="726.88" r="0.85" fill="#111"/>
<circle cx="348.34" cy="729.50" r="0.85" fill="#111"/>
<circle cx="350.09" cy="727.75" r="0.85" fill="#111"/>
<circle cx="351.84" cy="726.00" r="0.85" fill="#111"/>
<circle cx="353.59" cy="724.25" r="0.85" fill="#111"/>
<circle cx="361.57" cy="726.88" r="0.85" fill="#111"/>
<circle cx="157.36" cy="739.95" r="0.85" fill="#111"/>
<circle cx="159.11" cy="738.20" r="0.85" fill="#111"/>
<circle cx="160.86" cy="736.45" r="0.85" fill="#111"/>
<circle cx="162.61" cy="734.70" r="0.85" fill="#111"/>
<circle cx="178.58" cy="739.95" r="0.85" fill="#111"/>
<circle cx="180.33" cy="738.20" r="0.85" fill="#111"/>
<circle cx="182.08" cy="736.45" r="0.85" fill="#111"/>
<circle cx="183.83" cy="734.70" r="0.85" fill="#111"/>
<circle cx="190.06" cy="739.08" r="0.85" fill="#111"/>
<circle cx="191.81" cy="737.33" r="0.85" fill="#111"/>
<circle cx="193.56" cy="735.58" r="0.85" fill="#111"/>
<circle cx="199.80" cy="739.95" r="0.85" fill="#111"/>
<circle cx="201.55" cy="738.20" r="0.85" fill="#111"/>
<circle cx="203.30" cy="736.45" r="0.85" fill="#111"/>
<circle cx="205.05" cy="734.70" r="0.85" fill="#111"/>
<circle cx="210.41" cy="739.95" r="0.85" fill="#111"/>
<circle cx="212.16" cy="738.20" r="0.85" fill="#111"/>
<circle cx="213.91" cy="736.45" r="0.85" fill="#111"/>
<circle cx="215.66" cy="734.70" r="0.85" fill="#111"/>
<circle cx="222.77" cy="738.20" r="0.85" fill="#111"/>
<circle cx="224.52" cy="736.45" r="0.85" fill="#111"/>
<circle cx="232.50" cy="739.08" r="0.85" fill="#111"/>
<circle cx="234.25" cy="737.33" r="0.85" fill="#111"/>
<circle cx="236.00" cy="735.58" r="0.85" fill="#111"/>
<circle cx="253.73" cy="739.08" r="0.85" fill="#111"/>
<circle cx="255.48" cy="737.33" r="0.85" fill="#111"/>
<circle cx="257.23" cy="735.58" r="0.85" fill="#111"/>
<circle cx="274.07" cy="739.95" r="0.85" fill="#111"/>
<circle cx="275.82" cy="738.20" r="0.85" fill="#111"/>
<circle cx="277.57" cy="736.45" r="0.85" fill="#111"/>
<circle cx="279.32" cy="734.70" r="0.85" fill="#111"/>
<circle cx="296.17" cy="739.08" r="0.85" fill="#111"/>
<circle cx="297.92" cy="737.33" r="0.85" fill="#111"/>
<circle cx="299.67" cy="735.58" r="0.85" fill="#111"/>
<circle cx="305.90" cy="739.95" r="0.85" fill="#111"/>
<circle cx="307.65" cy="738.20" r="0.85" fill="#111"/>
<circle cx="309.40" cy="736.45" r="0.85" fill="#111"/>
<circle cx="311.15" cy="734.70" r="0.85" fill="#111"/>
<circle cx="328.00" cy="739.08" r="0.85" fill="#111"/>
<circle cx="329.75" cy="737.33" r="0.85" fill="#111"/>
<circle cx="331.50" cy="735.58" r="0.85" fill="#111"/>
<circle cx="359.82" cy="739.08" r="0.85" fill="#111"/>
<circle cx="361.57" cy="737.33" r="0.85" fill="#111"/>
<circle cx="363.32" cy="735.58" r="0.85" fill="#111"/>
<circle cx="369.56" cy="739.95" r="0.85" fill="#111"/>
<circle cx="371.31" cy="738.20" r="0.85" fill="#111"/>
<circle cx="373.06" cy="736.45" r="0.85" fill="#111"/>
<circle cx="374.81" cy="734.70" r="0.85" fill="#111"/>
<circle cx="158.24" cy="749.52" r="0.85" fill="#111"/>
<circle cx="159.99" cy="747.77" r="0.85" fill="#111"/>
<circle cx="161.74" cy="746.02" r="0.85" fill="#111"/>
<circle cx="169.72" cy="748.65" r="0.85" fill="#111"/>
<circle cx="171.47" cy="746.90" r="0.85" fill="#111"/>
<circle cx="180.33" cy="748.65" r="0.85" fill="#111"/>
<circle cx="182.08" cy="746.90" r="0.85" fill="#111"/>
<circle cx="190.06" cy="749.52" r="0.85" fill="#111"/>
<circle cx="191.81" cy="747.77" r="0.85" fill="#111"/>
<circle cx="193.56" cy="746.02" r="0.85" fill="#111"/>
<circle cx="202.43" cy="747.77" r="0.85" fill="#111"/>
<circle cx="212.16" cy="748.65" r="0.85" fill="#111"/>
<circle cx="213.91" cy="746.90" r="0.85" fill="#111"/>
<circle cx="223.64" cy="747.77" r="0.85" fill="#111"/>
<circle cx="244.87" cy="747.77" r="0.85" fill="#111"/>
<circle cx="253.73" cy="749.52" r="0.85" fill="#111"/>
<circle cx="255.48" cy="747.77" r="0.85" fill="#111"/>
<circle cx="257.23" cy="746.02" r="0.85" fill="#111"/>
<circle cx="274.94" cy="749.52" r="0.85" fill="#111"/>
<circle cx="276.69" cy="747.77" r="0.85" fill="#111"/>
<circle cx="278.44" cy="746.02" r="0.85" fill="#111"/>
<circle cx="286.43" cy="748.65" r="0.85" fill="#111"/>
<circle cx="288.18" cy="746.90" r="0.85" fill="#111"/>
<circle cx="297.04" cy="748.65" r="0.85" fill="#111"/>
<circle cx="298.79" cy="746.90" r="0.85" fill="#111"/>
<circle cx="306.77" cy="749.52" r="0.85" fill="#111"/>
<circle cx="308.52" cy="747.77" r="0.85" fill="#111"/>
<circle cx="310.27" cy="746.02" r="0.85" fill="#111"/>
<circle cx="329.75" cy="747.77" r="0.85" fill="#111"/>
<circle cx="340.36" cy="747.77" r="0.85" fill="#111"/>
<circle cx="360.70" cy="748.65" r="0.85" fill="#111"/>
<circle cx="362.45" cy="746.90" r="0.85" fill="#111"/>
<circle cx="371.31" cy="748.65" r="0.85" fill="#111"/>
<circle cx="373.06" cy="746.90" r="0.85" fill="#111"/>
<circle cx="381.92" cy="748.65" r="0.85" fill="#111"/>
<circle cx="383.67" cy="746.90" r="0.85" fill="#111"/>
<circle cx="392.53" cy="748.65" r="0.85" fill="#111"/>
<circle cx="394.28" cy="746.90" r="0.85" fill="#111"/>
<circle cx="159.99" cy="758.23" r="0.85" fill="#111"/>
<circle cx="170.59" cy="758.23" r="0.85" fill="#111"/>
<circle cx="180.33" cy="759.10" r="0.85" fill="#111"/>
<circle cx="182.08" cy="757.35" r="0.85" fill="#111"/>
<circle cx="189.19" cy="760.85" r="0.85" fill="#111"/>
<circle cx="190.94" cy="759.10" r="0.85" fill="#111"/>
<circle cx="192.69" cy="757.35" r="0.85" fill="#111"/>
<circle cx="194.44" cy="755.60" r="0.85" fill="#111"/>
<circle cx="201.55" cy="759.10" r="0.85" fill="#111"/>
<circle cx="203.30" cy="757.35" r="0.85" fill="#111"/>
<circle cx="210.41" cy="760.85" r="0.85" fill="#111"/>
<circle cx="212.16" cy="759.10" r="0.85" fill="#111"/>
<circle cx="213.91" cy="757.35" r="0.85" fill="#111"/>
<circle cx="215.66" cy="755.60" r="0.85" fill="#111"/>
<circle cx="222.77" cy="759.10" r="0.85" fill="#111"/>
<circle cx="224.52" cy="757.35" r="0.85" fill="#111"/>
<circle cx="233.38" cy="759.10" r="0.85" fill="#111"/>
<circle cx="235.13" cy="757.35" r="0.85" fill="#111"/>
<circle cx="244.87" cy="758.23" r="0.85" fill="#111"/>
<circle cx="253.73" cy="759.98" r="0.85" fill="#111"/>
<circle cx="255.48" cy="758.23" r="0.85" fill="#111"/>
<circle cx="257.23" cy="756.48" r="0.85" fill="#111"/>
<circle cx="274.94" cy="759.98" r="0.85" fill="#111"/>
<circle cx="276.69" cy="758.23" r="0.85" fill="#111"/>
<circle cx="278.44" cy="756.48" r="0.85" fill="#111"/>
<circle cx="287.31" cy="758.23" r="0.85" fill="#111"/>
<circle cx="297.04" cy="759.10" r="0.85" fill="#111"/>
<circle cx="298.79" cy="757.35" r="0.85" fill="#111"/>
<circle cx="306.77" cy="759.98" r="0.85" fill="#111"/>
<circle cx="308.52" cy="758.23" r="0.85" fill="#111"/>
<circle cx="310.27" cy="756.48" r="0.85" fill="#111"/>
<circle cx="328.00" cy="759.98" r="0.85" fill="#111"/>
<circle cx="329.75" cy="758.23" r="0.85" fill="#111"/>
<circle cx="331.50" cy="756.48" r="0.85" fill="#111"/>
<circle cx="339.48" cy="759.10" r="0.85" fill="#111"/>
<circle cx="341.23" cy="757.35" r="0.85" fill="#111"/>
<circle cx="349.22" cy="759.98" r="0.85" fill="#111"/>
<circle cx="350.97" cy="758.23" r="0.85" fill="#111"/>
<circle cx="352.72" cy="756.48" r="0.85" fill="#111"/>
<circle cx="359.82" cy="759.98" r="0.85" fill="#111"/>
<circle cx="361.57" cy="758.23" r="0.85" fill="#111"/>
<circle cx="363.32" cy="756.48" r="0.85" fill="#111"/>
<circle cx="369.56" cy="760.85" r="0.85" fill="#111"/>
<circle cx="371.31" cy="759.10" r="0.85" fill="#111"/>
<circle cx="373.06" cy="757.35" r="0.85" fill="#111"/>
<circle cx="374.81" cy="755.60" r="0.85" fill="#111"/>
<circle cx="381.05" cy="759.98" r="0.85" fill="#111"/>
<circle cx="382.80" cy="758.23" r="0.85" fill="#111"/>
<circle cx="384.55" cy="756.48" r="0.85" fill="#111"/>
<circle cx="392.53" cy="759.10" r="0.85" fill="#111"/>
<circle cx="394.28" cy="757.35" r="0.85" fill="#111"/>
<circle cx="403.14" cy="759.10" r="0.85" fill="#111"/>
<circle cx="404.89" cy="757.35" r="0.85" fill="#111"/>
<circle cx="158.24" cy="770.43" r="0.85" fill="#111"/>
<circle cx="159.99" cy="768.68" r="0.85" fill="#111"/>
<circle cx="161.74" cy="766.93" r="0.85" fill="#111"/>
<circle cx="170.59" cy="768.68" r="0.85" fill="#111"/>
<circle cx="181.20" cy="768.68" r="0.85" fill="#111"/>
<circle cx="191.81" cy="768.68" r="0.85" fill="#111"/>
<circle cx="202.43" cy="768.68" r="0.85" fill="#111"/>
<circle cx="212.16" cy="769.55" r="0.85" fill="#111"/>
<circle cx="213.91" cy="767.80" r="0.85" fill="#111"/>
<circle cx="233.38" cy="769.55" r="0.85" fill="#111"/>
<circle cx="235.13" cy="767.80" r="0.85" fill="#111"/>
<circle cx="253.73" cy="770.43" r="0.85" fill="#111"/>
<circle cx="255.48" cy="768.68" r="0.85" fill="#111"/>
<circle cx="257.23" cy="766.93" r="0.85" fill="#111"/>
<circle cx="266.08" cy="768.68" r="0.85" fill="#111"/>
<circle cx="275.82" cy="769.55" r="0.85" fill="#111"/>
<circle cx="277.57" cy="767.80" r="0.85" fill="#111"/>
<circle cx="307.65" cy="769.55" r="0.85" fill="#111"/>
<circle cx="309.40" cy="767.80" r="0.85" fill="#111"/>
<circle cx="328.00" cy="770.43" r="0.85" fill="#111"/>
<circle cx="329.75" cy="768.68" r="0.85" fill="#111"/>
<circle cx="331.50" cy="766.93" r="0.85" fill="#111"/>
<circle cx="359.82" cy="770.43" r="0.85" fill="#111"/>
<circle cx="361.57" cy="768.68" r="0.85" fill="#111"/>
<circle cx="363.32" cy="766.93" r="0.85" fill="#111"/>
<circle cx="371.31" cy="769.55" r="0.85" fill="#111"/>
<circle cx="373.06" cy="767.80" r="0.85" fill="#111"/>
<circle cx="382.80" cy="768.68" r="0.85" fill="#111"/>
<circle cx="392.53" cy="769.55" r="0.85" fill="#111"/>
<circle cx="394.28" cy="767.80" r="0.85" fill="#111"/>
<circle cx="403.14" cy="769.55" r="0.85" fill="#111"/>
<circle cx="404.89" cy="767.80" r="0.85" fill="#111"/>
<circle cx="413.75" cy="769.55" r="0.85" fill="#111"/>
<circle cx="415.50" cy="767.80" r="0.85" fill="#111"/>
<circle cx="159.99" cy="779.12" r="0.85" fill="#111"/>
<circle cx="170.59" cy="779.12" r="0.85" fill="#111"/>
<circle cx="180.33" cy="780.00" r="0.85" fill="#111"/>
<circle cx="182.08" cy="778.25" r="0.85" fill="#111"/>
<circle cx="190.94" cy="780.00" r="0.85" fill="#111"/>
<circle cx="192.69" cy="778.25" r="0.85" fill="#111"/>
<circle cx="201.55" cy="780.00" r="0.85" fill="#111"/>
<circle cx="203.30" cy="778.25" r="0.85" fill="#111"/>
<circle cx="212.16" cy="780.00" r="0.85" fill="#111"/>
<circle cx="213.91" cy="778.25" r="0.85" fill="#111"/>
<circle cx="231.63" cy="781.75" r="0.85" fill="#111"/>
<circle cx="233.38" cy="780.00" r="0.85" fill="#111"/>
<circle cx="235.13" cy="778.25" r="0.85" fill="#111"/>
<circle cx="236.88" cy="776.50" r="0.85" fill="#111"/>
<circle cx="244.87" cy="779.12" r="0.85" fill="#111"/>
<circle cx="253.73" cy="780.88" r="0.85" fill="#111"/>
<circle cx="255.48" cy="779.12" r="0.85" fill="#111"/>
<circle cx="257.23" cy="777.38" r="0.85" fill="#111"/>
<circle cx="266.08" cy="779.12" r="0.85" fill="#111"/>
<circle cx="275.82" cy="780.00" r="0.85" fill="#111"/>
<circle cx="277.57" cy="778.25" r="0.85" fill="#111"/>
<circle cx="297.92" cy="779.12" r="0.85" fill="#111"/>
<circle cx="307.65" cy="780.00" r="0.85" fill="#111"/>
<circle cx="309.40" cy="778.25" r="0.85" fill="#111"/>
<circle cx="327.12" cy="781.75" r="0.85" fill="#111"/>
<circle cx="328.87" cy="780.00" r="0.85" fill="#111"/>
<circle cx="330.62" cy="778.25" r="0.85" fill="#111"/>
<circle cx="332.37" cy="776.50" r="0.85" fill="#111"/>
<circle cx="350.97" cy="779.12" r="0.85" fill="#111"/>
<circle cx="359.82" cy="780.88" r="0.85" fill="#111"/>
<circle cx="361.57" cy="779.12" r="0.85" fill="#111"/>
<circle cx="363.32" cy="777.38" r="0.85" fill="#111"/>
<circle cx="371.31" cy="780.00" r="0.85" fill="#111"/>
<circle cx="373.06" cy="778.25" r="0.85" fill="#111"/>
<circle cx="382.80" cy="779.12" r="0.85" fill="#111"/>
<circle cx="392.53" cy="780.00" r="0.85" fill="#111"/>
<circle cx="394.28" cy="778.25" r="0.85" fill="#111"/>
<circle cx="404.01" cy="779.12" r="0.85" fill="#111"/>
<circle cx="412.88" cy="780.88" r="0.85" fill="#111"/>
<circle cx="414.62" cy="779.12" r="0.85" fill="#111"/>
<circle cx="416.38" cy="777.38" r="0.85" fill="#111"/>
<circle cx="73.35" cy="791.33" r="0.85" fill="#111"/>
<circle cx="75.10" cy="789.58" r="0.85" fill="#111"/>
<circle cx="76.85" cy="787.83" r="0.85" fill="#111"/>
<circle cx="95.45" cy="790.45" r="0.85" fill="#111"/>
<circle cx="97.20" cy="788.70" r="0.85" fill="#111"/>
<circle cx="106.94" cy="789.58" r="0.85" fill="#111"/>
<circle cx="128.16" cy="789.58" r="0.85" fill="#111"/>
<circle cx="137.01" cy="791.33" r="0.85" fill="#111"/>
<circle cx="138.76" cy="789.58" r="0.85" fill="#111"/>
<circle cx="140.51" cy="787.83" r="0.85" fill="#111"/>
<circle cx="168.84" cy="791.33" r="0.85" fill="#111"/>
<circle cx="170.59" cy="789.58" r="0.85" fill="#111"/>
<circle cx="172.34" cy="787.83" r="0.85" fill="#111"/>
<circle cx="181.20" cy="789.58" r="0.85" fill="#111"/>
<circle cx="191.81" cy="789.58" r="0.85" fill="#111"/>
<circle cx="212.16" cy="790.45" r="0.85" fill="#111"/>
<circle cx="213.91" cy="788.70" r="0.85" fill="#111"/>
<circle cx="221.89" cy="791.33" r="0.85" fill="#111"/>
<circle cx="223.64" cy="789.58" r="0.85" fill="#111"/>
<circle cx="225.39" cy="787.83" r="0.85" fill="#111"/>
<circle cx="242.24" cy="792.20" r="0.85" fill="#111"/>
<circle cx="243.99" cy="790.45" r="0.85" fill="#111"/>
<circle cx="245.74" cy="788.70" r="0.85" fill="#111"/>
<circle cx="247.49" cy="786.95" r="0.85" fill="#111"/>
<circle cx="266.08" cy="789.58" r="0.85" fill="#111"/>
<circle cx="276.69" cy="789.58" r="0.85" fill="#111"/>
<circle cx="284.68" cy="792.20" r="0.85" fill="#111"/>
<circle cx="286.43" cy="790.45" r="0.85" fill="#111"/>
<circle cx="288.18" cy="788.70" r="0.85" fill="#111"/>
<circle cx="289.93" cy="786.95" r="0.85" fill="#111"/>
<circle cx="339.48" cy="790.45" r="0.85" fill="#111"/>
<circle cx="341.23" cy="788.70" r="0.85" fill="#111"/>
<circle cx="350.97" cy="789.58" r="0.85" fill="#111"/>
<circle cx="359.82" cy="791.33" r="0.85" fill="#111"/>
<circle cx="361.57" cy="789.58" r="0.85" fill="#111"/>
<circle cx="363.32" cy="787.83" r="0.85" fill="#111"/>
<circle cx="372.19" cy="789.58" r="0.85" fill="#111"/>
<circle cx="382.80" cy="789.58" r="0.85" fill="#111"/>
<circle cx="393.40" cy="789.58" r="0.85" fill="#111"/>
<circle cx="404.01" cy="789.58" r="0.85" fill="#111"/>
<circle cx="414.62" cy="789.58" r="0.85" fill="#111"/>
<circle cx="435.85" cy="789.58" r="0.85" fill="#111"/>
<circle cx="75.10" cy="800.02" r="0.85" fill="#111"/>
<circle cx="85.72" cy="800.02" r="0.85" fill="#111"/>
<circle cx="96.32" cy="800.02" r="0.85" fill="#111"/>
<circle cx="106.94" cy="800.02" r="0.85" fill="#111"/>
<circle cx="128.16" cy="800.02" r="0.85" fill="#111"/>
<circle cx="137.01" cy="801.77" r="0.85" fill="#111"/>
<circle cx="138.76" cy="800.02" r="0.85" fill="#111"/>
<circle cx="140.51" cy="798.27" r="0.85" fill="#111"/>
<circle cx="168.84" cy="801.77" r="0.85" fill="#111"/>
<circle cx="170.59" cy="800.02" r="0.85" fill="#111"/>
<circle cx="172.34" cy="798.27" r="0.85" fill="#111"/>
<circle cx="191.81" cy="800.02" r="0.85" fill="#111"/>
<circle cx="212.16" cy="800.90" r="0.85" fill="#111"/>
<circle cx="213.91" cy="799.15" r="0.85" fill="#111"/>
<circle cx="244.87" cy="800.02" r="0.85" fill="#111"/>
<circle cx="286.43" cy="800.90" r="0.85" fill="#111"/>
<circle cx="288.18" cy="799.15" r="0.85" fill="#111"/>
<circle cx="349.22" cy="801.77" r="0.85" fill="#111"/>
<circle cx="350.97" cy="800.02" r="0.85" fill="#111"/>
<circle cx="352.72" cy="798.27" r="0.85" fill="#111"/>
<circle cx="360.70" cy="800.90" r="0.85" fill="#111"/>
<circle cx="362.45" cy="799.15" r="0.85" fill="#111"/>
<circle cx="371.31" cy="800.90" r="0.85" fill="#111"/>
<circle cx="373.06" cy="799.15" r="0.85" fill="#111"/>
<circle cx="381.92" cy="800.90" r="0.85" fill="#111"/>
<circle cx="383.67" cy="799.15" r="0.85" fill="#111"/>
<circle cx="403.14" cy="800.90" r="0.85" fill="#111"/>
<circle cx="404.89" cy="799.15" r="0.85" fill="#111"/>
<circle cx="413.75" cy="800.90" r="0.85" fill="#111"/>
<circle cx="415.50" cy="799.15" r="0.85" fill="#111"/>
<circle cx="446.45" cy="800.02" r="0.85" fill="#111"/>
</g>
<g font-size="9.2" text-anchor="end">
<text x="65.6" y="426.18">Erythrocytes</text>
<text x="65.6" y="436.63">Hemoglobin</text>
<text x="65.6" y="447.08">Leukocytes</text>
<text x="65.6" y="457.53">Neutrophils</text>
<text x="65.6" y="467.98">Lymphocytes</text>
<text x="65.6" y="478.43">Monocytes</text>
<text x="65.6" y="488.88">Platelets</text>
<text x="65.6" y="499.33">TGF-β</text>
<text x="65.6" y="509.78">MIP-1α</text>
<text x="65.6" y="520.23">Angiopoietin-1</text>
<text x="65.6" y="530.68">IL-27</text>
<text x="65.6" y="541.12">IL-1β</text>
<text x="65.6" y="551.58">IL-2</text>
<text x="65.6" y="562.03">IL-4</text>
<text x="65.6" y="572.48">IL-5</text>
<text x="65.6" y="582.93">IL-6</text>
<text x="65.6" y="593.38">IL-7</text>
<text x="65.6" y="603.83">IL-10</text>
<text x="65.6" y="614.28">Eotaxin</text>
<text x="65.6" y="624.73">IL-17A</text>
<text x="65.6" y="635.18">IL-1RA</text>
<text x="65.6" y="645.62">IFN-γ</text>
<text x="65.6" y="656.08">TNF-α</text>
<text x="65.6" y="666.53">HGF</text>
<text x="65.6" y="676.98">IL-16</text>
<text x="65.6" y="687.43">MCP-1</text>
<text x="65.6" y="697.88">MIP-3α</text>
<text x="65.6" y="708.33">IL-1α</text>
<text x="65.6" y="718.78">IL-23</text>
<text x="65.6" y="729.23">MMP-1</text>
<text x="65.6" y="739.68">IL-15</text>
<text x="65.6" y="750.12">IL-18</text>
<text x="65.6" y="760.58">M-CSF</text>
<text x="65.6" y="771.03">IL-3</text>
<text x="65.6" y="781.48">IL-22</text>
<text x="65.6" y="791.93">PDGF-BB</text>
<text x="65.6" y="802.38">VEGF-α</text>
</g>
<g font-size="9.2">
<text transform="translate(77.90,415.40) rotate(-90)">Erythrocytes</text>
<text transform="translate(88.51,425.85) rotate(-90)">Hemoglobin</text>
<text transform="translate(99.12,436.30) rotate(-90)">Leukocytes</text>
<text transform="translate(109.73,446.75) rotate(-90)">Neutrophils</text>
<text transform="translate(120.34,457.20) rotate(-90)">Lymphocytes</text>
<text transform="translate(130.95,467.65) rotate(-90)">Monocytes</text>
<text transform="translate(141.56,478.10) rotate(-90)">Platelets</text>
<text transform="translate(152.17,488.55) rotate(-90)">TGF-β</text>
<text transform="translate(162.78,499.00) rotate(-90)">MIP-1α</text>
<text transform="translate(173.39,509.45) rotate(-90)">Angiopoietin-1</text>
<text transform="translate(184.00,519.90) rotate(-90)">IL-27</text>
<text transform="translate(194.61,530.35) rotate(-90)">IL-1β</text>
<text transform="translate(205.22,540.80) rotate(-90)">IL-2</text>
<text transform="translate(215.83,551.25) rotate(-90)">IL-4</text>
<text transform="translate(226.44,561.70) rotate(-90)">IL-5</text>
<text transform="translate(237.05,572.15) rotate(-90)">IL-6</text>
<text transform="translate(247.66,582.60) rotate(-90)">IL-7</text>
<text transform="translate(258.27,593.05) rotate(-90)">IL-10</text>
<text transform="translate(268.88,603.50) rotate(-90)">Eotaxin</text>
<text transform="translate(279.49,613.95) rotate(-90)">IL-17A</text>
<text transform="translate(290.10,624.40) rotate(-90)">IL-1RA</text>
<text transform="translate(300.71,634.85) rotate(-90)">IFN-γ</text>
<text transform="translate(311.32,645.30) rotate(-90)">TNF-α</text>
<text transform="translate(321.93,655.75) rotate(-90)">HGF</text>
<text transform="translate(332.54,666.20) rotate(-90)">IL-16</text>
<text transform="translate(343.15,676.65) rotate(-90)">MCP-1</text>
<text transform="translate(353.76,687.10) rotate(-90)">MIP-3α</text>
<text transform="translate(364.37,697.55) rotate(-90)">IL-1α</text>
<text transform="translate(374.98,708.00) rotate(-90)">IL-23</text>
<text transform="translate(385.59,718.45) rotate(-90)">MMP-1</text>
<text transform="translate(396.20,728.90) rotate(-90)">IL-15</text>
<text transform="translate(406.81,739.35) rotate(-90)">IL-18</text>
<text transform="translate(417.42,749.80) rotate(-90)">M-CSF</text>
<text transform="translate(428.03,760.25) rotate(-90)">IL-3</text>
<text transform="translate(438.64,770.70) rotate(-90)">IL-22</text>
<text transform="translate(449.25,781.15) rotate(-90)">PDGF-BB</text>
<text transform="translate(459.86,791.60) rotate(-90)">VEGF-α</text>
</g>
<defs><linearGradient id="cb" x1="0" y1="1" x2="0" y2="0">
<stop offset="0.000" stop-color="#440154"/>
<stop offset="0.050" stop-color="#471365"/>
<stop offset="0.100" stop-color="#482475"/>
<stop offset="0.150" stop-color="#463480"/>
<stop offset="0.200" stop-color="#414487"/>
<stop offset="0.250" stop-color="#3b528b"/>
<stop offset="0.300" stop-color="#355f8d"/>
<stop offset="0.350" stop-color="#2f6c8e"/>
<stop offset="0.400" stop-color="#2a788e"/>
<stop offset="0.450" stop-color="#25848e"/>
<stop offset="0.500" stop-color="#21918c"/>
<stop offset="0.550" stop-color="#1e9c89"/>
<stop offset="0.600" stop-color="#22a884"/>
<stop offset="0.650" stop-color="#2fb47c"/>
<stop offset="0.700" stop-color="#44bf70"/>
<stop offset="0.750" stop-color="#5ec962"/>
<stop offset="0.800" stop-color="#7ad151"/>
<stop offset="0.850" stop-color="#9bd93c"/>
<stop offset="0.900" stop-color="#bddf26"/>
<stop offset="0.950" stop-color="#dfe318"/>
<stop offset="1.000" stop-color="#fde725"/>
</linearGradient></defs>
<rect x="474.9" y="418.3" width="13.6" height="386.0" fill="url(#cb)" stroke="#1a1a1a" stroke-width="1"/>
<g stroke="#111" stroke-width="0.9">
<line x1="475.4" y1="541.0" x2="477.0" y2="541.0"/><line x1="486.4" y1="541.0" x2="488.0" y2="541.0"/>
<line x1="475.4" y1="663.8" x2="477.0" y2="663.8"/><line x1="486.4" y1="663.8" x2="488.0" y2="663.8"/>
<line x1="475.4" y1="786.5" x2="477.0" y2="786.5"/><line x1="486.4" y1="786.5" x2="488.0" y2="786.5"/>
</g>
<g font-size="9.3">
<text x="492.9" y="426.6">1.0</text>
<text x="492.9" y="545.2">0.5</text>
<text x="492.9" y="666.2">0</text>
<text x="492.9" y="788.6">−0.5</text>
</g>
<text transform="translate(465.3,613.2) rotate(-90) scale(0.75,1)" font-size="11.5" text-anchor="middle" style="stroke-width:0.45px">Correlation coeff (<tspan font-style="italic">r</tspan><tspan font-size="8" dy="2" font-style="italic">s</tspan><tspan dy="-2">)</tspan></text>
<rect x="0.5" y="0.5" width="519" height="814" fill="none" stroke="#2a2a2a" stroke-width="1"/>
</svg></body></html>
